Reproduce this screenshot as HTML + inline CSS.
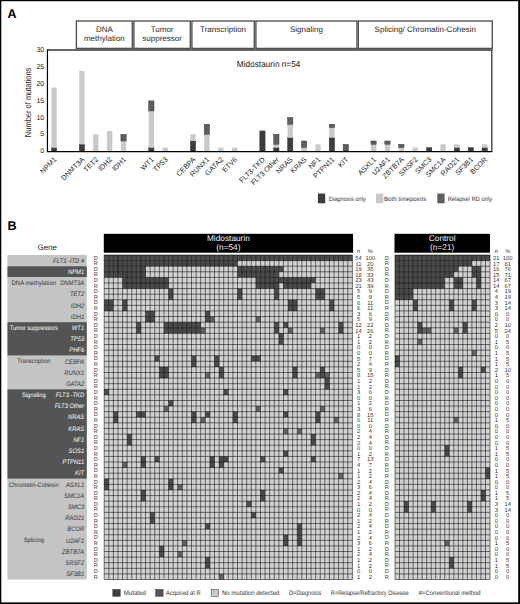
<!DOCTYPE html>
<html><head><meta charset="utf-8"><style>
html,body{margin:0;padding:0;background:#fff;width:520px;height:604px;overflow:hidden}
svg{display:block;font-family:"Liberation Sans", sans-serif;text-rendering:geometricPrecision}
</style></head><body>
<svg width="520" height="604" viewBox="0 0 520 604">
<text x="7.6" y="17.9" font-size="12.6" font-weight="bold" textLength="9.0" lengthAdjust="spacingAndGlyphs" fill="#000">A</text>
<rect x="76.4" y="21" width="55.90" height="27.4" fill="#fff" stroke="#4f4f4f" stroke-width="1.35"/>
<text x="104.35" y="32.1" font-size="8" text-anchor="middle" fill="#2a2a2a">DNA</text>
<text x="104.35" y="41.3" font-size="8" text-anchor="middle" fill="#2a2a2a">methylation</text>
<rect x="133.9" y="21" width="56.40" height="27.4" fill="#fff" stroke="#4f4f4f" stroke-width="1.35"/>
<text x="162.10" y="32.1" font-size="8" text-anchor="middle" fill="#2a2a2a">Tumor</text>
<text x="162.10" y="41.3" font-size="8" text-anchor="middle" fill="#2a2a2a">suppressor</text>
<rect x="191.9" y="21" width="62.40" height="27.4" fill="#fff" stroke="#4f4f4f" stroke-width="1.35"/>
<text x="223.10" y="32.3" font-size="8" text-anchor="middle" fill="#2a2a2a">Transcription</text>
<rect x="255.9" y="21" width="101.10" height="27.4" fill="#fff" stroke="#4f4f4f" stroke-width="1.35"/>
<text x="306.45" y="32.3" font-size="8" text-anchor="middle" fill="#2a2a2a">Signaling</text>
<rect x="358.3" y="21" width="134.00" height="27.4" fill="#fff" stroke="#4f4f4f" stroke-width="1.35"/>
<text x="425.30" y="32.3" font-size="8" text-anchor="middle" fill="#2a2a2a">Splicing/ Chromatin-Cohesin</text>
<line x1="47.4" y1="50.1" x2="492.3" y2="50.1" stroke="#333" stroke-width="1.5"/>
<line x1="491.8" y1="49.5" x2="491.8" y2="151.6" stroke="#333" stroke-width="1.3"/>
<rect x="51.45" y="147.66" width="5.3" height="3.34" fill="#3d3d3d" stroke="#333" stroke-width="0.45"/>
<rect x="51.45" y="87.54" width="5.3" height="60.12" fill="#c9c9c9"/>
<text transform="translate(57.10,160.00) rotate(-45)" font-size="7.2" text-anchor="end" fill="#222">NPM1</text>
<rect x="79.23" y="144.32" width="5.3" height="6.68" fill="#3d3d3d" stroke="#333" stroke-width="0.45"/>
<rect x="79.23" y="70.84" width="5.3" height="73.48" fill="#c9c9c9"/>
<text transform="translate(84.88,160.00) rotate(-45)" font-size="7.2" text-anchor="end" fill="#222">DNMT3A</text>
<rect x="93.12" y="134.30" width="5.3" height="16.70" fill="#c9c9c9"/>
<text transform="translate(98.77,160.00) rotate(-45)" font-size="7.2" text-anchor="end" fill="#222">TET2</text>
<rect x="107.01" y="130.96" width="5.3" height="20.04" fill="#c9c9c9"/>
<text transform="translate(112.66,160.00) rotate(-45)" font-size="7.2" text-anchor="end" fill="#222">IDH2</text>
<rect x="120.90" y="140.98" width="5.3" height="10.02" fill="#c9c9c9"/>
<rect x="120.90" y="134.30" width="5.3" height="6.68" fill="#5e5e5e" stroke="#333" stroke-width="0.45"/>
<text transform="translate(126.55,160.00) rotate(-45)" font-size="7.2" text-anchor="end" fill="#222">IDH1</text>
<rect x="148.68" y="147.66" width="5.3" height="3.34" fill="#3d3d3d" stroke="#333" stroke-width="0.45"/>
<rect x="148.68" y="110.92" width="5.3" height="36.74" fill="#c9c9c9"/>
<rect x="148.68" y="100.90" width="5.3" height="10.02" fill="#5e5e5e" stroke="#333" stroke-width="0.45"/>
<text transform="translate(154.33,160.00) rotate(-45)" font-size="7.2" text-anchor="end" fill="#222">WT1</text>
<rect x="162.57" y="147.66" width="5.3" height="3.34" fill="#c9c9c9"/>
<text transform="translate(168.22,160.00) rotate(-45)" font-size="7.2" text-anchor="end" fill="#222">TP53</text>
<rect x="190.35" y="140.98" width="5.3" height="10.02" fill="#3d3d3d" stroke="#333" stroke-width="0.45"/>
<rect x="190.35" y="134.30" width="5.3" height="6.68" fill="#c9c9c9"/>
<text transform="translate(196.00,160.00) rotate(-45)" font-size="7.2" text-anchor="end" fill="#222">CEBPA</text>
<rect x="204.24" y="134.30" width="5.3" height="16.70" fill="#c9c9c9"/>
<rect x="204.24" y="124.28" width="5.3" height="10.02" fill="#5e5e5e" stroke="#333" stroke-width="0.45"/>
<text transform="translate(209.89,160.00) rotate(-45)" font-size="7.2" text-anchor="end" fill="#222">RUNX1</text>
<rect x="218.13" y="147.66" width="5.3" height="3.34" fill="#c9c9c9"/>
<text transform="translate(223.78,160.00) rotate(-45)" font-size="7.2" text-anchor="end" fill="#222">GATA2</text>
<rect x="232.02" y="147.66" width="5.3" height="3.34" fill="#c9c9c9"/>
<text transform="translate(237.67,160.00) rotate(-45)" font-size="7.2" text-anchor="end" fill="#222">ETV6</text>
<rect x="259.80" y="130.96" width="5.3" height="20.04" fill="#3d3d3d" stroke="#333" stroke-width="0.45"/>
<text transform="translate(265.45,160.00) rotate(-45)" font-size="7.2" text-anchor="end" fill="#222">FLT3-TKD</text>
<rect x="273.69" y="147.66" width="5.3" height="3.34" fill="#3d3d3d" stroke="#333" stroke-width="0.45"/>
<rect x="273.69" y="144.32" width="5.3" height="3.34" fill="#c9c9c9"/>
<rect x="273.69" y="134.30" width="5.3" height="10.02" fill="#5e5e5e" stroke="#333" stroke-width="0.45"/>
<text transform="translate(279.34,160.00) rotate(-45)" font-size="7.2" text-anchor="end" fill="#222">FLT3 Other</text>
<rect x="287.58" y="137.64" width="5.3" height="13.36" fill="#3d3d3d" stroke="#333" stroke-width="0.45"/>
<rect x="287.58" y="124.28" width="5.3" height="13.36" fill="#c9c9c9"/>
<rect x="287.58" y="117.60" width="5.3" height="6.68" fill="#5e5e5e" stroke="#333" stroke-width="0.45"/>
<text transform="translate(293.23,160.00) rotate(-45)" font-size="7.2" text-anchor="end" fill="#222">NRAS</text>
<rect x="301.47" y="147.66" width="5.3" height="3.34" fill="#c9c9c9"/>
<rect x="301.47" y="140.98" width="5.3" height="6.68" fill="#5e5e5e" stroke="#333" stroke-width="0.45"/>
<text transform="translate(307.12,160.00) rotate(-45)" font-size="7.2" text-anchor="end" fill="#222">KRAS</text>
<rect x="315.36" y="144.32" width="5.3" height="6.68" fill="#c9c9c9"/>
<text transform="translate(321.01,160.00) rotate(-45)" font-size="7.2" text-anchor="end" fill="#222">NF1</text>
<rect x="329.25" y="137.64" width="5.3" height="13.36" fill="#3d3d3d" stroke="#333" stroke-width="0.45"/>
<rect x="329.25" y="127.62" width="5.3" height="10.02" fill="#c9c9c9"/>
<rect x="329.25" y="124.28" width="5.3" height="3.34" fill="#5e5e5e" stroke="#333" stroke-width="0.45"/>
<text transform="translate(334.90,160.00) rotate(-45)" font-size="7.2" text-anchor="end" fill="#222">PTPN11</text>
<rect x="343.14" y="144.32" width="5.3" height="6.68" fill="#5e5e5e" stroke="#333" stroke-width="0.45"/>
<text transform="translate(348.79,160.00) rotate(-45)" font-size="7.2" text-anchor="end" fill="#222">KIT</text>
<rect x="370.92" y="144.32" width="5.3" height="6.68" fill="#c9c9c9"/>
<rect x="370.92" y="140.98" width="5.3" height="3.34" fill="#5e5e5e" stroke="#333" stroke-width="0.45"/>
<text transform="translate(376.57,160.00) rotate(-45)" font-size="7.2" text-anchor="end" fill="#222">ASXL1</text>
<rect x="384.81" y="144.32" width="5.3" height="6.68" fill="#c9c9c9"/>
<rect x="384.81" y="140.98" width="5.3" height="3.34" fill="#5e5e5e" stroke="#333" stroke-width="0.45"/>
<text transform="translate(390.46,160.00) rotate(-45)" font-size="7.2" text-anchor="end" fill="#222">U2AF1</text>
<rect x="398.70" y="147.66" width="5.3" height="3.34" fill="#c9c9c9"/>
<rect x="398.70" y="144.32" width="5.3" height="3.34" fill="#5e5e5e" stroke="#333" stroke-width="0.45"/>
<text transform="translate(404.35,160.00) rotate(-45)" font-size="7.2" text-anchor="end" fill="#222">ZBTB7A</text>
<rect x="412.59" y="147.66" width="5.3" height="3.34" fill="#c9c9c9"/>
<text transform="translate(418.24,160.00) rotate(-45)" font-size="7.2" text-anchor="end" fill="#222">SRSF2</text>
<rect x="426.48" y="147.66" width="5.3" height="3.34" fill="#3d3d3d" stroke="#333" stroke-width="0.45"/>
<text transform="translate(432.13,160.00) rotate(-45)" font-size="7.2" text-anchor="end" fill="#222">SMC3</text>
<rect x="440.37" y="144.32" width="5.3" height="6.68" fill="#c9c9c9"/>
<text transform="translate(446.02,160.00) rotate(-45)" font-size="7.2" text-anchor="end" fill="#222">SMC1A</text>
<rect x="454.26" y="147.66" width="5.3" height="3.34" fill="#3d3d3d" stroke="#333" stroke-width="0.45"/>
<rect x="454.26" y="144.32" width="5.3" height="3.34" fill="#c9c9c9"/>
<text transform="translate(459.91,160.00) rotate(-45)" font-size="7.2" text-anchor="end" fill="#222">RAD21</text>
<rect x="468.15" y="147.66" width="5.3" height="3.34" fill="#3d3d3d" stroke="#333" stroke-width="0.45"/>
<text transform="translate(473.80,160.00) rotate(-45)" font-size="7.2" text-anchor="end" fill="#222">SF3B1</text>
<rect x="482.04" y="147.66" width="5.3" height="3.34" fill="#3d3d3d" stroke="#333" stroke-width="0.45"/>
<rect x="482.04" y="144.32" width="5.3" height="3.34" fill="#c9c9c9"/>
<text transform="translate(487.69,160.00) rotate(-45)" font-size="7.2" text-anchor="end" fill="#222">BCOR</text>
<line x1="47.45" y1="49.4" x2="47.45" y2="151.6" stroke="#000" stroke-width="1.2"/>
<line x1="46.9" y1="151.55" x2="492.4" y2="151.55" stroke="#000" stroke-width="1.2"/>
<text x="44.2" y="153.40" font-size="7" text-anchor="end" fill="#222">0</text>
<text x="44.2" y="136.49" font-size="7" text-anchor="end" fill="#222">5</text>
<text x="44.2" y="119.57" font-size="7" text-anchor="end" fill="#222">10</text>
<text x="44.2" y="102.66" font-size="7" text-anchor="end" fill="#222">15</text>
<text x="44.2" y="85.74" font-size="7" text-anchor="end" fill="#222">20</text>
<text x="44.2" y="68.83" font-size="7" text-anchor="end" fill="#222">25</text>
<text x="44.2" y="51.91" font-size="7" text-anchor="end" fill="#222">30</text>
<text transform="translate(31.4,102.4) rotate(-90)" font-size="8.8" text-anchor="middle" textLength="69.5" lengthAdjust="spacingAndGlyphs" fill="#2a2a2a">Number of mutations</text>
<text x="268.6" y="66.9" font-size="8.7" text-anchor="middle" textLength="63.5" lengthAdjust="spacingAndGlyphs" fill="#222">Midostaurin n=54</text>
<rect x="317.9" y="193.5" width="7.3" height="9.8" fill="#3d3d3d"/>
<text x="328.8" y="200.6" font-size="6.3" textLength="37.0" lengthAdjust="spacingAndGlyphs" fill="#333">Diagnosis only</text>
<rect x="376.0" y="193.5" width="7.3" height="9.8" fill="#c9c9c9"/>
<text x="384.0" y="200.6" font-size="6.3" textLength="42.3" lengthAdjust="spacingAndGlyphs" fill="#333">Both timepoints</text>
<rect x="437.3" y="193.5" width="7.3" height="9.8" fill="#5e5e5e"/>
<text x="447.7" y="200.6" font-size="6.3" textLength="44.3" lengthAdjust="spacingAndGlyphs" fill="#333">Relapse/ RD only</text>
<text x="7.4" y="230.2" font-size="12.6" font-weight="bold" fill="#000">B</text>
<text x="47.3" y="249.7" font-size="8" text-anchor="middle" fill="#222">Gene</text>
<rect x="7.4" y="255.00" width="79.40" height="11.19" fill="#c4c4c4"/>
<rect x="7.4" y="266.19" width="79.40" height="11.19" fill="#545454"/>
<rect x="7.4" y="277.38" width="79.40" height="44.76" fill="#c4c4c4"/>
<rect x="7.4" y="322.14" width="79.40" height="33.57" fill="#545454"/>
<rect x="7.4" y="355.71" width="79.40" height="33.57" fill="#c4c4c4"/>
<rect x="7.4" y="389.28" width="79.40" height="89.52" fill="#545454"/>
<rect x="7.4" y="478.80" width="79.40" height="100.71" fill="#c4c4c4"/>
<text x="33.8" y="285.08" font-size="6.4" text-anchor="middle" textLength="44.5" lengthAdjust="spacingAndGlyphs" fill="#333">DNA methylation</text>
<text x="33.8" y="329.84" font-size="6.4" text-anchor="middle" textLength="48.2" lengthAdjust="spacingAndGlyphs" fill="#fff">Tumor suppressors</text>
<text x="33.8" y="363.41" font-size="6.4" text-anchor="middle" textLength="33.2" lengthAdjust="spacingAndGlyphs" fill="#333">Transcription</text>
<text x="33.8" y="396.98" font-size="6.4" text-anchor="middle" textLength="23.7" lengthAdjust="spacingAndGlyphs" fill="#fff">Signaling</text>
<text x="33.8" y="486.50" font-size="6.4" text-anchor="middle" textLength="49.9" lengthAdjust="spacingAndGlyphs" fill="#333">Chromatin-Cohesin</text>
<text x="33.8" y="542.45" font-size="6.4" text-anchor="middle" textLength="20.3" lengthAdjust="spacingAndGlyphs" fill="#333">Splicing</text>
<text transform="translate(84.2,262.80) scale(0.9,1)" font-size="6.5" font-style="italic" text-anchor="end" fill="#333">FLT3 -ITD #</text>
<text transform="translate(84.2,273.99) scale(0.9,1)" font-size="6.5" font-style="italic" text-anchor="end" fill="#fff">NPM1</text>
<text transform="translate(84.2,285.18) scale(0.9,1)" font-size="6.5" font-style="italic" text-anchor="end" fill="#333">DNMT3A</text>
<text transform="translate(84.2,296.37) scale(0.9,1)" font-size="6.5" font-style="italic" text-anchor="end" fill="#333">TET2</text>
<text transform="translate(84.2,307.56) scale(0.9,1)" font-size="6.5" font-style="italic" text-anchor="end" fill="#333">IDH2</text>
<text transform="translate(84.2,318.75) scale(0.9,1)" font-size="6.5" font-style="italic" text-anchor="end" fill="#333">IDH1</text>
<text transform="translate(84.2,329.94) scale(0.9,1)" font-size="6.5" font-style="italic" text-anchor="end" fill="#fff">WT1</text>
<text transform="translate(84.2,341.12) scale(0.9,1)" font-size="6.5" font-style="italic" text-anchor="end" fill="#fff">TP53</text>
<text transform="translate(84.2,352.31) scale(0.9,1)" font-size="6.5" font-style="italic" text-anchor="end" fill="#fff">PHF6</text>
<text transform="translate(84.2,363.50) scale(0.9,1)" font-size="6.5" font-style="italic" text-anchor="end" fill="#333">CEBPA</text>
<text transform="translate(84.2,374.69) scale(0.9,1)" font-size="6.5" font-style="italic" text-anchor="end" fill="#333">RUNX1</text>
<text transform="translate(84.2,385.88) scale(0.9,1)" font-size="6.5" font-style="italic" text-anchor="end" fill="#333">GATA2</text>
<text transform="translate(84.2,397.07) scale(0.9,1)" font-size="6.5" font-style="italic" text-anchor="end" fill="#fff">FLT3 -TKD</text>
<text transform="translate(84.2,408.27) scale(0.9,1)" font-size="6.5" font-style="italic" text-anchor="end" fill="#fff">FLT3 Other</text>
<text transform="translate(84.2,419.45) scale(0.9,1)" font-size="6.5" font-style="italic" text-anchor="end" fill="#fff">NRAS</text>
<text transform="translate(84.2,430.65) scale(0.9,1)" font-size="6.5" font-style="italic" text-anchor="end" fill="#fff">KRAS</text>
<text transform="translate(84.2,441.83) scale(0.9,1)" font-size="6.5" font-style="italic" text-anchor="end" fill="#fff">NF1</text>
<text transform="translate(84.2,453.03) scale(0.9,1)" font-size="6.5" font-style="italic" text-anchor="end" fill="#fff">SOS1</text>
<text transform="translate(84.2,464.21) scale(0.9,1)" font-size="6.5" font-style="italic" text-anchor="end" fill="#fff">PTPN11</text>
<text transform="translate(84.2,475.41) scale(0.9,1)" font-size="6.5" font-style="italic" text-anchor="end" fill="#fff">KIT</text>
<text transform="translate(84.2,486.59) scale(0.9,1)" font-size="6.5" font-style="italic" text-anchor="end" fill="#333">ASXL1</text>
<text transform="translate(84.2,497.79) scale(0.9,1)" font-size="6.5" font-style="italic" text-anchor="end" fill="#333">SMC1A</text>
<text transform="translate(84.2,508.97) scale(0.9,1)" font-size="6.5" font-style="italic" text-anchor="end" fill="#333">SMC3</text>
<text transform="translate(84.2,520.17) scale(0.9,1)" font-size="6.5" font-style="italic" text-anchor="end" fill="#333">RAD21</text>
<text transform="translate(84.2,531.36) scale(0.9,1)" font-size="6.5" font-style="italic" text-anchor="end" fill="#333">BCOR</text>
<text transform="translate(84.2,542.55) scale(0.9,1)" font-size="6.5" font-style="italic" text-anchor="end" fill="#333">U2AF1</text>
<text transform="translate(84.2,553.74) scale(0.9,1)" font-size="6.5" font-style="italic" text-anchor="end" fill="#333">ZBTB7A</text>
<text transform="translate(84.2,564.93) scale(0.9,1)" font-size="6.5" font-style="italic" text-anchor="end" fill="#333">SRSF2</text>
<text transform="translate(84.2,576.12) scale(0.9,1)" font-size="6.5" font-style="italic" text-anchor="end" fill="#333">SF3B1</text>
<text x="95.8" y="259.70" font-size="5.7" text-anchor="middle" fill="#444">D</text>
<text x="95.8" y="265.30" font-size="5.7" text-anchor="middle" fill="#444">R</text>
<text x="95.8" y="270.89" font-size="5.7" text-anchor="middle" fill="#444">D</text>
<text x="95.8" y="276.49" font-size="5.7" text-anchor="middle" fill="#444">R</text>
<text x="95.8" y="282.08" font-size="5.7" text-anchor="middle" fill="#444">D</text>
<text x="95.8" y="287.68" font-size="5.7" text-anchor="middle" fill="#444">R</text>
<text x="95.8" y="293.27" font-size="5.7" text-anchor="middle" fill="#444">D</text>
<text x="95.8" y="298.87" font-size="5.7" text-anchor="middle" fill="#444">R</text>
<text x="95.8" y="304.46" font-size="5.7" text-anchor="middle" fill="#444">D</text>
<text x="95.8" y="310.06" font-size="5.7" text-anchor="middle" fill="#444">R</text>
<text x="95.8" y="315.65" font-size="5.7" text-anchor="middle" fill="#444">D</text>
<text x="95.8" y="321.25" font-size="5.7" text-anchor="middle" fill="#444">R</text>
<text x="95.8" y="326.84" font-size="5.7" text-anchor="middle" fill="#444">D</text>
<text x="95.8" y="332.44" font-size="5.7" text-anchor="middle" fill="#444">R</text>
<text x="95.8" y="338.03" font-size="5.7" text-anchor="middle" fill="#444">D</text>
<text x="95.8" y="343.62" font-size="5.7" text-anchor="middle" fill="#444">R</text>
<text x="95.8" y="349.22" font-size="5.7" text-anchor="middle" fill="#444">D</text>
<text x="95.8" y="354.81" font-size="5.7" text-anchor="middle" fill="#444">R</text>
<text x="95.8" y="360.41" font-size="5.7" text-anchor="middle" fill="#444">D</text>
<text x="95.8" y="366.00" font-size="5.7" text-anchor="middle" fill="#444">R</text>
<text x="95.8" y="371.60" font-size="5.7" text-anchor="middle" fill="#444">D</text>
<text x="95.8" y="377.19" font-size="5.7" text-anchor="middle" fill="#444">R</text>
<text x="95.8" y="382.79" font-size="5.7" text-anchor="middle" fill="#444">D</text>
<text x="95.8" y="388.38" font-size="5.7" text-anchor="middle" fill="#444">R</text>
<text x="95.8" y="393.98" font-size="5.7" text-anchor="middle" fill="#444">D</text>
<text x="95.8" y="399.57" font-size="5.7" text-anchor="middle" fill="#444">R</text>
<text x="95.8" y="405.17" font-size="5.7" text-anchor="middle" fill="#444">D</text>
<text x="95.8" y="410.76" font-size="5.7" text-anchor="middle" fill="#444">R</text>
<text x="95.8" y="416.36" font-size="5.7" text-anchor="middle" fill="#444">D</text>
<text x="95.8" y="421.95" font-size="5.7" text-anchor="middle" fill="#444">R</text>
<text x="95.8" y="427.55" font-size="5.7" text-anchor="middle" fill="#444">D</text>
<text x="95.8" y="433.14" font-size="5.7" text-anchor="middle" fill="#444">R</text>
<text x="95.8" y="438.74" font-size="5.7" text-anchor="middle" fill="#444">D</text>
<text x="95.8" y="444.33" font-size="5.7" text-anchor="middle" fill="#444">R</text>
<text x="95.8" y="449.93" font-size="5.7" text-anchor="middle" fill="#444">D</text>
<text x="95.8" y="455.52" font-size="5.7" text-anchor="middle" fill="#444">R</text>
<text x="95.8" y="461.12" font-size="5.7" text-anchor="middle" fill="#444">D</text>
<text x="95.8" y="466.71" font-size="5.7" text-anchor="middle" fill="#444">R</text>
<text x="95.8" y="472.31" font-size="5.7" text-anchor="middle" fill="#444">D</text>
<text x="95.8" y="477.90" font-size="5.7" text-anchor="middle" fill="#444">R</text>
<text x="95.8" y="483.50" font-size="5.7" text-anchor="middle" fill="#444">D</text>
<text x="95.8" y="489.09" font-size="5.7" text-anchor="middle" fill="#444">R</text>
<text x="95.8" y="494.69" font-size="5.7" text-anchor="middle" fill="#444">D</text>
<text x="95.8" y="500.28" font-size="5.7" text-anchor="middle" fill="#444">R</text>
<text x="95.8" y="505.88" font-size="5.7" text-anchor="middle" fill="#444">D</text>
<text x="95.8" y="511.47" font-size="5.7" text-anchor="middle" fill="#444">R</text>
<text x="95.8" y="517.07" font-size="5.7" text-anchor="middle" fill="#444">D</text>
<text x="95.8" y="522.66" font-size="5.7" text-anchor="middle" fill="#444">R</text>
<text x="95.8" y="528.26" font-size="5.7" text-anchor="middle" fill="#444">D</text>
<text x="95.8" y="533.86" font-size="5.7" text-anchor="middle" fill="#444">R</text>
<text x="95.8" y="539.45" font-size="5.7" text-anchor="middle" fill="#444">D</text>
<text x="95.8" y="545.05" font-size="5.7" text-anchor="middle" fill="#444">R</text>
<text x="95.8" y="550.64" font-size="5.7" text-anchor="middle" fill="#444">D</text>
<text x="95.8" y="556.24" font-size="5.7" text-anchor="middle" fill="#444">R</text>
<text x="95.8" y="561.83" font-size="5.7" text-anchor="middle" fill="#444">D</text>
<text x="95.8" y="567.42" font-size="5.7" text-anchor="middle" fill="#444">R</text>
<text x="95.8" y="573.02" font-size="5.7" text-anchor="middle" fill="#444">D</text>
<text x="95.8" y="578.62" font-size="5.7" text-anchor="middle" fill="#444">R</text>
<text x="386.7" y="259.70" font-size="5.7" text-anchor="middle" fill="#444">D</text>
<text x="386.7" y="265.30" font-size="5.7" text-anchor="middle" fill="#444">R</text>
<text x="386.7" y="270.89" font-size="5.7" text-anchor="middle" fill="#444">D</text>
<text x="386.7" y="276.49" font-size="5.7" text-anchor="middle" fill="#444">R</text>
<text x="386.7" y="282.08" font-size="5.7" text-anchor="middle" fill="#444">D</text>
<text x="386.7" y="287.68" font-size="5.7" text-anchor="middle" fill="#444">R</text>
<text x="386.7" y="293.27" font-size="5.7" text-anchor="middle" fill="#444">D</text>
<text x="386.7" y="298.87" font-size="5.7" text-anchor="middle" fill="#444">R</text>
<text x="386.7" y="304.46" font-size="5.7" text-anchor="middle" fill="#444">D</text>
<text x="386.7" y="310.06" font-size="5.7" text-anchor="middle" fill="#444">R</text>
<text x="386.7" y="315.65" font-size="5.7" text-anchor="middle" fill="#444">D</text>
<text x="386.7" y="321.25" font-size="5.7" text-anchor="middle" fill="#444">R</text>
<text x="386.7" y="326.84" font-size="5.7" text-anchor="middle" fill="#444">D</text>
<text x="386.7" y="332.44" font-size="5.7" text-anchor="middle" fill="#444">R</text>
<text x="386.7" y="338.03" font-size="5.7" text-anchor="middle" fill="#444">D</text>
<text x="386.7" y="343.62" font-size="5.7" text-anchor="middle" fill="#444">R</text>
<text x="386.7" y="349.22" font-size="5.7" text-anchor="middle" fill="#444">D</text>
<text x="386.7" y="354.81" font-size="5.7" text-anchor="middle" fill="#444">R</text>
<text x="386.7" y="360.41" font-size="5.7" text-anchor="middle" fill="#444">D</text>
<text x="386.7" y="366.00" font-size="5.7" text-anchor="middle" fill="#444">R</text>
<text x="386.7" y="371.60" font-size="5.7" text-anchor="middle" fill="#444">D</text>
<text x="386.7" y="377.19" font-size="5.7" text-anchor="middle" fill="#444">R</text>
<text x="386.7" y="382.79" font-size="5.7" text-anchor="middle" fill="#444">D</text>
<text x="386.7" y="388.38" font-size="5.7" text-anchor="middle" fill="#444">R</text>
<text x="386.7" y="393.98" font-size="5.7" text-anchor="middle" fill="#444">D</text>
<text x="386.7" y="399.57" font-size="5.7" text-anchor="middle" fill="#444">R</text>
<text x="386.7" y="405.17" font-size="5.7" text-anchor="middle" fill="#444">D</text>
<text x="386.7" y="410.76" font-size="5.7" text-anchor="middle" fill="#444">R</text>
<text x="386.7" y="416.36" font-size="5.7" text-anchor="middle" fill="#444">D</text>
<text x="386.7" y="421.95" font-size="5.7" text-anchor="middle" fill="#444">R</text>
<text x="386.7" y="427.55" font-size="5.7" text-anchor="middle" fill="#444">D</text>
<text x="386.7" y="433.14" font-size="5.7" text-anchor="middle" fill="#444">R</text>
<text x="386.7" y="438.74" font-size="5.7" text-anchor="middle" fill="#444">D</text>
<text x="386.7" y="444.33" font-size="5.7" text-anchor="middle" fill="#444">R</text>
<text x="386.7" y="449.93" font-size="5.7" text-anchor="middle" fill="#444">D</text>
<text x="386.7" y="455.52" font-size="5.7" text-anchor="middle" fill="#444">R</text>
<text x="386.7" y="461.12" font-size="5.7" text-anchor="middle" fill="#444">D</text>
<text x="386.7" y="466.71" font-size="5.7" text-anchor="middle" fill="#444">R</text>
<text x="386.7" y="472.31" font-size="5.7" text-anchor="middle" fill="#444">D</text>
<text x="386.7" y="477.90" font-size="5.7" text-anchor="middle" fill="#444">R</text>
<text x="386.7" y="483.50" font-size="5.7" text-anchor="middle" fill="#444">D</text>
<text x="386.7" y="489.09" font-size="5.7" text-anchor="middle" fill="#444">R</text>
<text x="386.7" y="494.69" font-size="5.7" text-anchor="middle" fill="#444">D</text>
<text x="386.7" y="500.28" font-size="5.7" text-anchor="middle" fill="#444">R</text>
<text x="386.7" y="505.88" font-size="5.7" text-anchor="middle" fill="#444">D</text>
<text x="386.7" y="511.47" font-size="5.7" text-anchor="middle" fill="#444">R</text>
<text x="386.7" y="517.07" font-size="5.7" text-anchor="middle" fill="#444">D</text>
<text x="386.7" y="522.66" font-size="5.7" text-anchor="middle" fill="#444">R</text>
<text x="386.7" y="528.26" font-size="5.7" text-anchor="middle" fill="#444">D</text>
<text x="386.7" y="533.86" font-size="5.7" text-anchor="middle" fill="#444">R</text>
<text x="386.7" y="539.45" font-size="5.7" text-anchor="middle" fill="#444">D</text>
<text x="386.7" y="545.05" font-size="5.7" text-anchor="middle" fill="#444">R</text>
<text x="386.7" y="550.64" font-size="5.7" text-anchor="middle" fill="#444">D</text>
<text x="386.7" y="556.24" font-size="5.7" text-anchor="middle" fill="#444">R</text>
<text x="386.7" y="561.83" font-size="5.7" text-anchor="middle" fill="#444">D</text>
<text x="386.7" y="567.42" font-size="5.7" text-anchor="middle" fill="#444">R</text>
<text x="386.7" y="573.02" font-size="5.7" text-anchor="middle" fill="#444">D</text>
<text x="386.7" y="578.62" font-size="5.7" text-anchor="middle" fill="#444">R</text>
<rect x="104.2" y="255.0" width="248.20" height="324.51" fill="#d2d2d2"/>
<rect x="104.20" y="255.00" width="4.60" height="5.59" fill="#4a4a4a"/>
<rect x="108.80" y="255.00" width="4.60" height="5.59" fill="#4a4a4a"/>
<rect x="113.39" y="255.00" width="4.60" height="5.59" fill="#4a4a4a"/>
<rect x="117.99" y="255.00" width="4.60" height="5.59" fill="#4a4a4a"/>
<rect x="122.59" y="255.00" width="4.60" height="5.59" fill="#4a4a4a"/>
<rect x="127.18" y="255.00" width="4.60" height="5.59" fill="#4a4a4a"/>
<rect x="131.78" y="255.00" width="4.60" height="5.59" fill="#4a4a4a"/>
<rect x="136.37" y="255.00" width="4.60" height="5.59" fill="#4a4a4a"/>
<rect x="140.97" y="255.00" width="4.60" height="5.59" fill="#4a4a4a"/>
<rect x="145.57" y="255.00" width="4.60" height="5.59" fill="#4a4a4a"/>
<rect x="150.16" y="255.00" width="4.60" height="5.59" fill="#4a4a4a"/>
<rect x="154.76" y="255.00" width="4.60" height="5.59" fill="#4a4a4a"/>
<rect x="159.36" y="255.00" width="4.60" height="5.59" fill="#4a4a4a"/>
<rect x="163.95" y="255.00" width="4.60" height="5.59" fill="#4a4a4a"/>
<rect x="168.55" y="255.00" width="4.60" height="5.59" fill="#4a4a4a"/>
<rect x="173.14" y="255.00" width="4.60" height="5.59" fill="#4a4a4a"/>
<rect x="177.74" y="255.00" width="4.60" height="5.59" fill="#4a4a4a"/>
<rect x="182.34" y="255.00" width="4.60" height="5.59" fill="#4a4a4a"/>
<rect x="186.93" y="255.00" width="4.60" height="5.59" fill="#4a4a4a"/>
<rect x="191.53" y="255.00" width="4.60" height="5.59" fill="#4a4a4a"/>
<rect x="196.13" y="255.00" width="4.60" height="5.59" fill="#4a4a4a"/>
<rect x="200.72" y="255.00" width="4.60" height="5.59" fill="#4a4a4a"/>
<rect x="205.32" y="255.00" width="4.60" height="5.59" fill="#4a4a4a"/>
<rect x="209.91" y="255.00" width="4.60" height="5.59" fill="#4a4a4a"/>
<rect x="214.51" y="255.00" width="4.60" height="5.59" fill="#4a4a4a"/>
<rect x="219.11" y="255.00" width="4.60" height="5.59" fill="#4a4a4a"/>
<rect x="223.70" y="255.00" width="4.60" height="5.59" fill="#4a4a4a"/>
<rect x="228.30" y="255.00" width="4.60" height="5.59" fill="#4a4a4a"/>
<rect x="232.90" y="255.00" width="4.60" height="5.59" fill="#4a4a4a"/>
<rect x="237.49" y="255.00" width="4.60" height="5.59" fill="#4a4a4a"/>
<rect x="242.09" y="255.00" width="4.60" height="5.59" fill="#4a4a4a"/>
<rect x="246.69" y="255.00" width="4.60" height="5.59" fill="#4a4a4a"/>
<rect x="251.28" y="255.00" width="4.60" height="5.59" fill="#4a4a4a"/>
<rect x="255.88" y="255.00" width="4.60" height="5.59" fill="#4a4a4a"/>
<rect x="260.47" y="255.00" width="4.60" height="5.59" fill="#4a4a4a"/>
<rect x="265.07" y="255.00" width="4.60" height="5.59" fill="#4a4a4a"/>
<rect x="269.67" y="255.00" width="4.60" height="5.59" fill="#4a4a4a"/>
<rect x="274.26" y="255.00" width="4.60" height="5.59" fill="#4a4a4a"/>
<rect x="278.86" y="255.00" width="4.60" height="5.59" fill="#4a4a4a"/>
<rect x="283.46" y="255.00" width="4.60" height="5.59" fill="#4a4a4a"/>
<rect x="288.05" y="255.00" width="4.60" height="5.59" fill="#4a4a4a"/>
<rect x="292.65" y="255.00" width="4.60" height="5.59" fill="#4a4a4a"/>
<rect x="297.24" y="255.00" width="4.60" height="5.59" fill="#4a4a4a"/>
<rect x="301.84" y="255.00" width="4.60" height="5.59" fill="#4a4a4a"/>
<rect x="306.44" y="255.00" width="4.60" height="5.59" fill="#4a4a4a"/>
<rect x="311.03" y="255.00" width="4.60" height="5.59" fill="#4a4a4a"/>
<rect x="315.63" y="255.00" width="4.60" height="5.59" fill="#4a4a4a"/>
<rect x="320.23" y="255.00" width="4.60" height="5.59" fill="#4a4a4a"/>
<rect x="324.82" y="255.00" width="4.60" height="5.59" fill="#4a4a4a"/>
<rect x="329.42" y="255.00" width="4.60" height="5.59" fill="#4a4a4a"/>
<rect x="334.01" y="255.00" width="4.60" height="5.59" fill="#4a4a4a"/>
<rect x="338.61" y="255.00" width="4.60" height="5.59" fill="#4a4a4a"/>
<rect x="343.21" y="255.00" width="4.60" height="5.59" fill="#4a4a4a"/>
<rect x="347.80" y="255.00" width="4.60" height="5.59" fill="#4a4a4a"/>
<rect x="104.20" y="260.60" width="4.60" height="5.59" fill="#4a4a4a"/>
<rect x="108.80" y="260.60" width="4.60" height="5.59" fill="#4a4a4a"/>
<rect x="113.39" y="260.60" width="4.60" height="5.59" fill="#4a4a4a"/>
<rect x="117.99" y="260.60" width="4.60" height="5.59" fill="#4a4a4a"/>
<rect x="122.59" y="260.60" width="4.60" height="5.59" fill="#4a4a4a"/>
<rect x="127.18" y="260.60" width="4.60" height="5.59" fill="#4a4a4a"/>
<rect x="131.78" y="260.60" width="4.60" height="5.59" fill="#4a4a4a"/>
<rect x="136.37" y="260.60" width="4.60" height="5.59" fill="#4a4a4a"/>
<rect x="140.97" y="260.60" width="4.60" height="5.59" fill="#4a4a4a"/>
<rect x="145.57" y="260.60" width="4.60" height="5.59" fill="#4a4a4a"/>
<rect x="150.16" y="260.60" width="4.60" height="5.59" fill="#4a4a4a"/>
<rect x="154.76" y="260.60" width="4.60" height="5.59" fill="#4a4a4a"/>
<rect x="159.36" y="260.60" width="4.60" height="5.59" fill="#4a4a4a"/>
<rect x="163.95" y="260.60" width="4.60" height="5.59" fill="#4a4a4a"/>
<rect x="168.55" y="260.60" width="4.60" height="5.59" fill="#4a4a4a"/>
<rect x="173.14" y="260.60" width="4.60" height="5.59" fill="#4a4a4a"/>
<rect x="177.74" y="260.60" width="4.60" height="5.59" fill="#4a4a4a"/>
<rect x="182.34" y="260.60" width="4.60" height="5.59" fill="#4a4a4a"/>
<rect x="186.93" y="260.60" width="4.60" height="5.59" fill="#4a4a4a"/>
<rect x="191.53" y="260.60" width="4.60" height="5.59" fill="#4a4a4a"/>
<rect x="196.13" y="260.60" width="4.60" height="5.59" fill="#4a4a4a"/>
<rect x="200.72" y="260.60" width="4.60" height="5.59" fill="#4a4a4a"/>
<rect x="205.32" y="260.60" width="4.60" height="5.59" fill="#4a4a4a"/>
<rect x="209.91" y="260.60" width="4.60" height="5.59" fill="#4a4a4a"/>
<rect x="214.51" y="260.60" width="4.60" height="5.59" fill="#4a4a4a"/>
<rect x="219.11" y="260.60" width="4.60" height="5.59" fill="#4a4a4a"/>
<rect x="223.70" y="260.60" width="4.60" height="5.59" fill="#4a4a4a"/>
<rect x="228.30" y="260.60" width="4.60" height="5.59" fill="#4a4a4a"/>
<rect x="232.90" y="260.60" width="4.60" height="5.59" fill="#4a4a4a"/>
<rect x="104.20" y="266.19" width="4.60" height="5.59" fill="#4a4a4a"/>
<rect x="108.80" y="266.19" width="4.60" height="5.59" fill="#4a4a4a"/>
<rect x="113.39" y="266.19" width="4.60" height="5.59" fill="#4a4a4a"/>
<rect x="117.99" y="266.19" width="4.60" height="5.59" fill="#4a4a4a"/>
<rect x="122.59" y="266.19" width="4.60" height="5.59" fill="#4a4a4a"/>
<rect x="127.18" y="266.19" width="4.60" height="5.59" fill="#4a4a4a"/>
<rect x="131.78" y="266.19" width="4.60" height="5.59" fill="#4a4a4a"/>
<rect x="136.37" y="266.19" width="4.60" height="5.59" fill="#4a4a4a"/>
<rect x="140.97" y="266.19" width="4.60" height="5.59" fill="#4a4a4a"/>
<rect x="237.49" y="266.19" width="4.60" height="5.59" fill="#4a4a4a"/>
<rect x="242.09" y="266.19" width="4.60" height="5.59" fill="#4a4a4a"/>
<rect x="246.69" y="266.19" width="4.60" height="5.59" fill="#4a4a4a"/>
<rect x="251.28" y="266.19" width="4.60" height="5.59" fill="#4a4a4a"/>
<rect x="255.88" y="266.19" width="4.60" height="5.59" fill="#4a4a4a"/>
<rect x="260.47" y="266.19" width="4.60" height="5.59" fill="#4a4a4a"/>
<rect x="265.07" y="266.19" width="4.60" height="5.59" fill="#4a4a4a"/>
<rect x="269.67" y="266.19" width="4.60" height="5.59" fill="#4a4a4a"/>
<rect x="274.26" y="266.19" width="4.60" height="5.59" fill="#4a4a4a"/>
<rect x="278.86" y="266.19" width="4.60" height="5.59" fill="#4a4a4a"/>
<rect x="104.20" y="271.79" width="4.60" height="5.59" fill="#4a4a4a"/>
<rect x="108.80" y="271.79" width="4.60" height="5.59" fill="#4a4a4a"/>
<rect x="113.39" y="271.79" width="4.60" height="5.59" fill="#4a4a4a"/>
<rect x="117.99" y="271.79" width="4.60" height="5.59" fill="#4a4a4a"/>
<rect x="122.59" y="271.79" width="4.60" height="5.59" fill="#4a4a4a"/>
<rect x="127.18" y="271.79" width="4.60" height="5.59" fill="#4a4a4a"/>
<rect x="131.78" y="271.79" width="4.60" height="5.59" fill="#4a4a4a"/>
<rect x="136.37" y="271.79" width="4.60" height="5.59" fill="#4a4a4a"/>
<rect x="140.97" y="271.79" width="4.60" height="5.59" fill="#4a4a4a"/>
<rect x="237.49" y="271.79" width="4.60" height="5.59" fill="#4a4a4a"/>
<rect x="242.09" y="271.79" width="4.60" height="5.59" fill="#4a4a4a"/>
<rect x="246.69" y="271.79" width="4.60" height="5.59" fill="#4a4a4a"/>
<rect x="251.28" y="271.79" width="4.60" height="5.59" fill="#4a4a4a"/>
<rect x="255.88" y="271.79" width="4.60" height="5.59" fill="#4a4a4a"/>
<rect x="260.47" y="271.79" width="4.60" height="5.59" fill="#4a4a4a"/>
<rect x="265.07" y="271.79" width="4.60" height="5.59" fill="#4a4a4a"/>
<rect x="269.67" y="271.79" width="4.60" height="5.59" fill="#4a4a4a"/>
<rect x="274.26" y="271.79" width="4.60" height="5.59" fill="#4a4a4a"/>
<rect x="122.59" y="277.38" width="4.60" height="5.59" fill="#4a4a4a"/>
<rect x="127.18" y="277.38" width="4.60" height="5.59" fill="#4a4a4a"/>
<rect x="131.78" y="277.38" width="4.60" height="5.59" fill="#4a4a4a"/>
<rect x="136.37" y="277.38" width="4.60" height="5.59" fill="#4a4a4a"/>
<rect x="140.97" y="277.38" width="4.60" height="5.59" fill="#4a4a4a"/>
<rect x="145.57" y="277.38" width="4.60" height="5.59" fill="#4a4a4a"/>
<rect x="150.16" y="277.38" width="4.60" height="5.59" fill="#4a4a4a"/>
<rect x="154.76" y="277.38" width="4.60" height="5.59" fill="#4a4a4a"/>
<rect x="159.36" y="277.38" width="4.60" height="5.59" fill="#4a4a4a"/>
<rect x="163.95" y="277.38" width="4.60" height="5.59" fill="#4a4a4a"/>
<rect x="255.88" y="277.38" width="4.60" height="5.59" fill="#4a4a4a"/>
<rect x="260.47" y="277.38" width="4.60" height="5.59" fill="#4a4a4a"/>
<rect x="265.07" y="277.38" width="4.60" height="5.59" fill="#4a4a4a"/>
<rect x="269.67" y="277.38" width="4.60" height="5.59" fill="#4a4a4a"/>
<rect x="274.26" y="277.38" width="4.60" height="5.59" fill="#4a4a4a"/>
<rect x="278.86" y="277.38" width="4.60" height="5.59" fill="#4a4a4a"/>
<rect x="283.46" y="277.38" width="4.60" height="5.59" fill="#4a4a4a"/>
<rect x="288.05" y="277.38" width="4.60" height="5.59" fill="#4a4a4a"/>
<rect x="292.65" y="277.38" width="4.60" height="5.59" fill="#4a4a4a"/>
<rect x="297.24" y="277.38" width="4.60" height="5.59" fill="#4a4a4a"/>
<rect x="301.84" y="277.38" width="4.60" height="5.59" fill="#4a4a4a"/>
<rect x="306.44" y="277.38" width="4.60" height="5.59" fill="#4a4a4a"/>
<rect x="311.03" y="277.38" width="4.60" height="5.59" fill="#4a4a4a"/>
<rect x="122.59" y="282.98" width="4.60" height="5.59" fill="#4a4a4a"/>
<rect x="127.18" y="282.98" width="4.60" height="5.59" fill="#4a4a4a"/>
<rect x="131.78" y="282.98" width="4.60" height="5.59" fill="#4a4a4a"/>
<rect x="136.37" y="282.98" width="4.60" height="5.59" fill="#4a4a4a"/>
<rect x="140.97" y="282.98" width="4.60" height="5.59" fill="#4a4a4a"/>
<rect x="145.57" y="282.98" width="4.60" height="5.59" fill="#4a4a4a"/>
<rect x="150.16" y="282.98" width="4.60" height="5.59" fill="#4a4a4a"/>
<rect x="154.76" y="282.98" width="4.60" height="5.59" fill="#4a4a4a"/>
<rect x="159.36" y="282.98" width="4.60" height="5.59" fill="#4a4a4a"/>
<rect x="163.95" y="282.98" width="4.60" height="5.59" fill="#4a4a4a"/>
<rect x="255.88" y="282.98" width="4.60" height="5.59" fill="#4a4a4a"/>
<rect x="260.47" y="282.98" width="4.60" height="5.59" fill="#4a4a4a"/>
<rect x="265.07" y="282.98" width="4.60" height="5.59" fill="#4a4a4a"/>
<rect x="269.67" y="282.98" width="4.60" height="5.59" fill="#4a4a4a"/>
<rect x="274.26" y="282.98" width="4.60" height="5.59" fill="#4a4a4a"/>
<rect x="283.46" y="282.98" width="4.60" height="5.59" fill="#4a4a4a"/>
<rect x="288.05" y="282.98" width="4.60" height="5.59" fill="#4a4a4a"/>
<rect x="292.65" y="282.98" width="4.60" height="5.59" fill="#4a4a4a"/>
<rect x="297.24" y="282.98" width="4.60" height="5.59" fill="#4a4a4a"/>
<rect x="301.84" y="282.98" width="4.60" height="5.59" fill="#4a4a4a"/>
<rect x="306.44" y="282.98" width="4.60" height="5.59" fill="#4a4a4a"/>
<rect x="168.55" y="288.57" width="4.60" height="5.59" fill="#4a4a4a"/>
<rect x="237.49" y="288.57" width="4.60" height="5.59" fill="#4a4a4a"/>
<rect x="274.26" y="288.57" width="4.60" height="5.59" fill="#4a4a4a"/>
<rect x="315.63" y="288.57" width="4.60" height="5.59" fill="#4a4a4a"/>
<rect x="320.23" y="288.57" width="4.60" height="5.59" fill="#4a4a4a"/>
<rect x="168.55" y="294.17" width="4.60" height="5.59" fill="#4a4a4a"/>
<rect x="237.49" y="294.17" width="4.60" height="5.59" fill="#4a4a4a"/>
<rect x="274.26" y="294.17" width="4.60" height="5.59" fill="#4a4a4a"/>
<rect x="315.63" y="294.17" width="4.60" height="5.59" fill="#4a4a4a"/>
<rect x="320.23" y="294.17" width="4.60" height="5.59" fill="#4a4a4a"/>
<rect x="104.20" y="299.76" width="4.60" height="5.59" fill="#4a4a4a"/>
<rect x="108.80" y="299.76" width="4.60" height="5.59" fill="#4a4a4a"/>
<rect x="122.59" y="299.76" width="4.60" height="5.59" fill="#4a4a4a"/>
<rect x="288.05" y="299.76" width="4.60" height="5.59" fill="#4a4a4a"/>
<rect x="292.65" y="299.76" width="4.60" height="5.59" fill="#4a4a4a"/>
<rect x="329.42" y="299.76" width="4.60" height="5.59" fill="#4a4a4a"/>
<rect x="104.20" y="305.36" width="4.60" height="5.59" fill="#4a4a4a"/>
<rect x="108.80" y="305.36" width="4.60" height="5.59" fill="#4a4a4a"/>
<rect x="122.59" y="305.36" width="4.60" height="5.59" fill="#4a4a4a"/>
<rect x="288.05" y="305.36" width="4.60" height="5.59" fill="#4a4a4a"/>
<rect x="292.65" y="305.36" width="4.60" height="5.59" fill="#4a4a4a"/>
<rect x="329.42" y="305.36" width="4.60" height="5.59" fill="#4a4a4a"/>
<rect x="145.57" y="310.95" width="4.60" height="5.59" fill="#4a4a4a"/>
<rect x="150.16" y="310.95" width="4.60" height="5.59" fill="#4a4a4a"/>
<rect x="205.32" y="310.95" width="4.60" height="5.59" fill="#4a4a4a"/>
<rect x="145.57" y="316.55" width="4.60" height="5.59" fill="#4a4a4a"/>
<rect x="150.16" y="316.55" width="4.60" height="5.59" fill="#4a4a4a"/>
<rect x="205.32" y="316.55" width="4.60" height="5.59" fill="#4a4a4a"/>
<rect x="209.91" y="316.55" width="4.60" height="5.59" fill="#626262"/>
<rect x="255.88" y="316.55" width="4.60" height="5.59" fill="#626262"/>
<rect x="136.37" y="322.14" width="4.60" height="5.59" fill="#4a4a4a"/>
<rect x="163.95" y="322.14" width="4.60" height="5.59" fill="#4a4a4a"/>
<rect x="168.55" y="322.14" width="4.60" height="5.59" fill="#4a4a4a"/>
<rect x="173.14" y="322.14" width="4.60" height="5.59" fill="#4a4a4a"/>
<rect x="177.74" y="322.14" width="4.60" height="5.59" fill="#4a4a4a"/>
<rect x="182.34" y="322.14" width="4.60" height="5.59" fill="#4a4a4a"/>
<rect x="186.93" y="322.14" width="4.60" height="5.59" fill="#4a4a4a"/>
<rect x="191.53" y="322.14" width="4.60" height="5.59" fill="#4a4a4a"/>
<rect x="196.13" y="322.14" width="4.60" height="5.59" fill="#4a4a4a"/>
<rect x="274.26" y="322.14" width="4.60" height="5.59" fill="#4a4a4a"/>
<rect x="283.46" y="322.14" width="4.60" height="5.59" fill="#4a4a4a"/>
<rect x="338.61" y="322.14" width="4.60" height="5.59" fill="#4a4a4a"/>
<rect x="136.37" y="327.74" width="4.60" height="5.59" fill="#4a4a4a"/>
<rect x="163.95" y="327.74" width="4.60" height="5.59" fill="#4a4a4a"/>
<rect x="168.55" y="327.74" width="4.60" height="5.59" fill="#4a4a4a"/>
<rect x="173.14" y="327.74" width="4.60" height="5.59" fill="#4a4a4a"/>
<rect x="177.74" y="327.74" width="4.60" height="5.59" fill="#4a4a4a"/>
<rect x="182.34" y="327.74" width="4.60" height="5.59" fill="#4a4a4a"/>
<rect x="186.93" y="327.74" width="4.60" height="5.59" fill="#4a4a4a"/>
<rect x="191.53" y="327.74" width="4.60" height="5.59" fill="#4a4a4a"/>
<rect x="196.13" y="327.74" width="4.60" height="5.59" fill="#4a4a4a"/>
<rect x="200.72" y="327.74" width="4.60" height="5.59" fill="#626262"/>
<rect x="274.26" y="327.74" width="4.60" height="5.59" fill="#4a4a4a"/>
<rect x="288.05" y="327.74" width="4.60" height="5.59" fill="#626262"/>
<rect x="320.23" y="327.74" width="4.60" height="5.59" fill="#626262"/>
<rect x="338.61" y="327.74" width="4.60" height="5.59" fill="#4a4a4a"/>
<rect x="278.86" y="333.33" width="4.60" height="5.59" fill="#4a4a4a"/>
<rect x="278.86" y="338.93" width="4.60" height="5.59" fill="#4a4a4a"/>
<rect x="154.76" y="355.71" width="4.60" height="5.59" fill="#4a4a4a"/>
<rect x="191.53" y="355.71" width="4.60" height="5.59" fill="#4a4a4a"/>
<rect x="214.51" y="355.71" width="4.60" height="5.59" fill="#4a4a4a"/>
<rect x="251.28" y="355.71" width="4.60" height="5.59" fill="#4a4a4a"/>
<rect x="255.88" y="355.71" width="4.60" height="5.59" fill="#4a4a4a"/>
<rect x="191.53" y="361.31" width="4.60" height="5.59" fill="#4a4a4a"/>
<rect x="214.51" y="361.31" width="4.60" height="5.59" fill="#4a4a4a"/>
<rect x="159.36" y="366.90" width="4.60" height="5.59" fill="#4a4a4a"/>
<rect x="163.95" y="366.90" width="4.60" height="5.59" fill="#4a4a4a"/>
<rect x="219.11" y="366.90" width="4.60" height="5.59" fill="#4a4a4a"/>
<rect x="292.65" y="366.90" width="4.60" height="5.59" fill="#4a4a4a"/>
<rect x="320.23" y="366.90" width="4.60" height="5.59" fill="#4a4a4a"/>
<rect x="159.36" y="372.50" width="4.60" height="5.59" fill="#4a4a4a"/>
<rect x="163.95" y="372.50" width="4.60" height="5.59" fill="#4a4a4a"/>
<rect x="205.32" y="372.50" width="4.60" height="5.59" fill="#626262"/>
<rect x="219.11" y="372.50" width="4.60" height="5.59" fill="#4a4a4a"/>
<rect x="292.65" y="372.50" width="4.60" height="5.59" fill="#4a4a4a"/>
<rect x="315.63" y="372.50" width="4.60" height="5.59" fill="#626262"/>
<rect x="320.23" y="372.50" width="4.60" height="5.59" fill="#4a4a4a"/>
<rect x="324.82" y="372.50" width="4.60" height="5.59" fill="#626262"/>
<rect x="324.82" y="378.09" width="4.60" height="5.59" fill="#4a4a4a"/>
<rect x="324.82" y="383.69" width="4.60" height="5.59" fill="#4a4a4a"/>
<rect x="104.20" y="389.28" width="4.60" height="5.59" fill="#4a4a4a"/>
<rect x="223.70" y="389.28" width="4.60" height="5.59" fill="#4a4a4a"/>
<rect x="283.46" y="389.28" width="4.60" height="5.59" fill="#4a4a4a"/>
<rect x="168.55" y="400.47" width="4.60" height="5.59" fill="#4a4a4a"/>
<rect x="163.95" y="406.06" width="4.60" height="5.59" fill="#626262"/>
<rect x="255.88" y="406.06" width="4.60" height="5.59" fill="#626262"/>
<rect x="320.23" y="406.06" width="4.60" height="5.59" fill="#626262"/>
<rect x="113.39" y="411.66" width="4.60" height="5.59" fill="#4a4a4a"/>
<rect x="136.37" y="411.66" width="4.60" height="5.59" fill="#4a4a4a"/>
<rect x="140.97" y="411.66" width="4.60" height="5.59" fill="#4a4a4a"/>
<rect x="191.53" y="411.66" width="4.60" height="5.59" fill="#4a4a4a"/>
<rect x="205.32" y="411.66" width="4.60" height="5.59" fill="#4a4a4a"/>
<rect x="232.90" y="411.66" width="4.60" height="5.59" fill="#4a4a4a"/>
<rect x="283.46" y="411.66" width="4.60" height="5.59" fill="#4a4a4a"/>
<rect x="315.63" y="411.66" width="4.60" height="5.59" fill="#4a4a4a"/>
<rect x="113.39" y="417.25" width="4.60" height="5.59" fill="#4a4a4a"/>
<rect x="191.53" y="417.25" width="4.60" height="5.59" fill="#4a4a4a"/>
<rect x="200.72" y="417.25" width="4.60" height="5.59" fill="#626262"/>
<rect x="232.90" y="417.25" width="4.60" height="5.59" fill="#4a4a4a"/>
<rect x="315.63" y="417.25" width="4.60" height="5.59" fill="#4a4a4a"/>
<rect x="334.01" y="417.25" width="4.60" height="5.59" fill="#626262"/>
<rect x="283.46" y="428.44" width="4.60" height="5.59" fill="#626262"/>
<rect x="297.24" y="428.44" width="4.60" height="5.59" fill="#626262"/>
<rect x="127.18" y="434.04" width="4.60" height="5.59" fill="#4a4a4a"/>
<rect x="311.03" y="434.04" width="4.60" height="5.59" fill="#4a4a4a"/>
<rect x="127.18" y="439.63" width="4.60" height="5.59" fill="#4a4a4a"/>
<rect x="311.03" y="439.63" width="4.60" height="5.59" fill="#4a4a4a"/>
<rect x="283.46" y="450.82" width="4.60" height="5.59" fill="#4a4a4a"/>
<rect x="140.97" y="456.42" width="4.60" height="5.59" fill="#4a4a4a"/>
<rect x="154.76" y="456.42" width="4.60" height="5.59" fill="#4a4a4a"/>
<rect x="209.91" y="456.42" width="4.60" height="5.59" fill="#4a4a4a"/>
<rect x="219.11" y="456.42" width="4.60" height="5.59" fill="#4a4a4a"/>
<rect x="223.70" y="456.42" width="4.60" height="5.59" fill="#4a4a4a"/>
<rect x="260.47" y="456.42" width="4.60" height="5.59" fill="#4a4a4a"/>
<rect x="311.03" y="456.42" width="4.60" height="5.59" fill="#4a4a4a"/>
<rect x="122.59" y="462.01" width="4.60" height="5.59" fill="#626262"/>
<rect x="140.97" y="462.01" width="4.60" height="5.59" fill="#4a4a4a"/>
<rect x="209.91" y="462.01" width="4.60" height="5.59" fill="#4a4a4a"/>
<rect x="219.11" y="462.01" width="4.60" height="5.59" fill="#4a4a4a"/>
<rect x="278.86" y="467.61" width="4.60" height="5.59" fill="#4a4a4a"/>
<rect x="338.61" y="473.20" width="4.60" height="5.59" fill="#626262"/>
<rect x="104.20" y="478.80" width="4.60" height="5.59" fill="#4a4a4a"/>
<rect x="168.55" y="478.80" width="4.60" height="5.59" fill="#4a4a4a"/>
<rect x="104.20" y="484.39" width="4.60" height="5.59" fill="#4a4a4a"/>
<rect x="168.55" y="484.39" width="4.60" height="5.59" fill="#4a4a4a"/>
<rect x="177.74" y="484.39" width="4.60" height="5.59" fill="#626262"/>
<rect x="140.97" y="489.99" width="4.60" height="5.59" fill="#4a4a4a"/>
<rect x="260.47" y="489.99" width="4.60" height="5.59" fill="#4a4a4a"/>
<rect x="140.97" y="495.58" width="4.60" height="5.59" fill="#4a4a4a"/>
<rect x="260.47" y="495.58" width="4.60" height="5.59" fill="#4a4a4a"/>
<rect x="246.69" y="501.18" width="4.60" height="5.59" fill="#4a4a4a"/>
<rect x="150.16" y="512.37" width="4.60" height="5.59" fill="#4a4a4a"/>
<rect x="251.28" y="512.37" width="4.60" height="5.59" fill="#4a4a4a"/>
<rect x="150.16" y="517.96" width="4.60" height="5.59" fill="#4a4a4a"/>
<rect x="205.32" y="523.56" width="4.60" height="5.59" fill="#4a4a4a"/>
<rect x="297.24" y="523.56" width="4.60" height="5.59" fill="#4a4a4a"/>
<rect x="297.24" y="529.15" width="4.60" height="5.59" fill="#4a4a4a"/>
<rect x="283.46" y="534.75" width="4.60" height="5.59" fill="#4a4a4a"/>
<rect x="297.24" y="534.75" width="4.60" height="5.59" fill="#4a4a4a"/>
<rect x="182.34" y="540.35" width="4.60" height="5.59" fill="#626262"/>
<rect x="283.46" y="540.35" width="4.60" height="5.59" fill="#4a4a4a"/>
<rect x="297.24" y="540.35" width="4.60" height="5.59" fill="#4a4a4a"/>
<rect x="159.36" y="545.94" width="4.60" height="5.59" fill="#4a4a4a"/>
<rect x="159.36" y="551.53" width="4.60" height="5.59" fill="#4a4a4a"/>
<rect x="177.74" y="551.53" width="4.60" height="5.59" fill="#626262"/>
<rect x="205.32" y="557.13" width="4.60" height="5.59" fill="#4a4a4a"/>
<rect x="205.32" y="562.72" width="4.60" height="5.59" fill="#4a4a4a"/>
<rect x="219.11" y="573.91" width="4.60" height="5.59" fill="#626262"/>
<path d="M104.20 255.0V579.51M108.80 255.0V579.51M113.39 255.0V579.51M117.99 255.0V579.51M122.59 255.0V579.51M127.18 255.0V579.51M131.78 255.0V579.51M136.37 255.0V579.51M140.97 255.0V579.51M145.57 255.0V579.51M150.16 255.0V579.51M154.76 255.0V579.51M159.36 255.0V579.51M163.95 255.0V579.51M168.55 255.0V579.51M173.14 255.0V579.51M177.74 255.0V579.51M182.34 255.0V579.51M186.93 255.0V579.51M191.53 255.0V579.51M196.13 255.0V579.51M200.72 255.0V579.51M205.32 255.0V579.51M209.91 255.0V579.51M214.51 255.0V579.51M219.11 255.0V579.51M223.70 255.0V579.51M228.30 255.0V579.51M232.90 255.0V579.51M237.49 255.0V579.51M242.09 255.0V579.51M246.69 255.0V579.51M251.28 255.0V579.51M255.88 255.0V579.51M260.47 255.0V579.51M265.07 255.0V579.51M269.67 255.0V579.51M274.26 255.0V579.51M278.86 255.0V579.51M283.46 255.0V579.51M288.05 255.0V579.51M292.65 255.0V579.51M297.24 255.0V579.51M301.84 255.0V579.51M306.44 255.0V579.51M311.03 255.0V579.51M315.63 255.0V579.51M320.23 255.0V579.51M324.82 255.0V579.51M329.42 255.0V579.51M334.01 255.0V579.51M338.61 255.0V579.51M343.21 255.0V579.51M347.80 255.0V579.51M352.40 255.0V579.51M104.2 255.00H352.4M104.2 260.60H352.4M104.2 266.19H352.4M104.2 271.79H352.4M104.2 277.38H352.4M104.2 282.98H352.4M104.2 288.57H352.4M104.2 294.17H352.4M104.2 299.76H352.4M104.2 305.36H352.4M104.2 310.95H352.4M104.2 316.55H352.4M104.2 322.14H352.4M104.2 327.74H352.4M104.2 333.33H352.4M104.2 338.93H352.4M104.2 344.52H352.4M104.2 350.12H352.4M104.2 355.71H352.4M104.2 361.31H352.4M104.2 366.90H352.4M104.2 372.50H352.4M104.2 378.09H352.4M104.2 383.69H352.4M104.2 389.28H352.4M104.2 394.88H352.4M104.2 400.47H352.4M104.2 406.06H352.4M104.2 411.66H352.4M104.2 417.25H352.4M104.2 422.85H352.4M104.2 428.44H352.4M104.2 434.04H352.4M104.2 439.63H352.4M104.2 445.23H352.4M104.2 450.82H352.4M104.2 456.42H352.4M104.2 462.01H352.4M104.2 467.61H352.4M104.2 473.20H352.4M104.2 478.80H352.4M104.2 484.39H352.4M104.2 489.99H352.4M104.2 495.58H352.4M104.2 501.18H352.4M104.2 506.77H352.4M104.2 512.37H352.4M104.2 517.96H352.4M104.2 523.56H352.4M104.2 529.15H352.4M104.2 534.75H352.4M104.2 540.35H352.4M104.2 545.94H352.4M104.2 551.53H352.4M104.2 557.13H352.4M104.2 562.72H352.4M104.2 568.32H352.4M104.2 573.91H352.4M104.2 579.51H352.4" stroke="#000" stroke-opacity="0.62" stroke-width="0.85" fill="none"/>
<rect x="395.0" y="255.0" width="95.00" height="324.51" fill="#d2d2d2"/>
<rect x="395.00" y="255.00" width="4.52" height="5.59" fill="#4a4a4a"/>
<rect x="399.52" y="255.00" width="4.52" height="5.59" fill="#4a4a4a"/>
<rect x="404.05" y="255.00" width="4.52" height="5.59" fill="#4a4a4a"/>
<rect x="408.57" y="255.00" width="4.52" height="5.59" fill="#4a4a4a"/>
<rect x="413.10" y="255.00" width="4.52" height="5.59" fill="#4a4a4a"/>
<rect x="417.62" y="255.00" width="4.52" height="5.59" fill="#4a4a4a"/>
<rect x="422.14" y="255.00" width="4.52" height="5.59" fill="#4a4a4a"/>
<rect x="426.67" y="255.00" width="4.52" height="5.59" fill="#4a4a4a"/>
<rect x="431.19" y="255.00" width="4.52" height="5.59" fill="#4a4a4a"/>
<rect x="435.71" y="255.00" width="4.52" height="5.59" fill="#4a4a4a"/>
<rect x="440.24" y="255.00" width="4.52" height="5.59" fill="#4a4a4a"/>
<rect x="444.76" y="255.00" width="4.52" height="5.59" fill="#4a4a4a"/>
<rect x="449.29" y="255.00" width="4.52" height="5.59" fill="#4a4a4a"/>
<rect x="453.81" y="255.00" width="4.52" height="5.59" fill="#4a4a4a"/>
<rect x="458.33" y="255.00" width="4.52" height="5.59" fill="#4a4a4a"/>
<rect x="462.86" y="255.00" width="4.52" height="5.59" fill="#4a4a4a"/>
<rect x="467.38" y="255.00" width="4.52" height="5.59" fill="#4a4a4a"/>
<rect x="471.90" y="255.00" width="4.52" height="5.59" fill="#4a4a4a"/>
<rect x="476.43" y="255.00" width="4.52" height="5.59" fill="#4a4a4a"/>
<rect x="480.95" y="255.00" width="4.52" height="5.59" fill="#4a4a4a"/>
<rect x="485.48" y="255.00" width="4.52" height="5.59" fill="#4a4a4a"/>
<rect x="395.00" y="260.60" width="4.52" height="5.59" fill="#4a4a4a"/>
<rect x="399.52" y="260.60" width="4.52" height="5.59" fill="#4a4a4a"/>
<rect x="404.05" y="260.60" width="4.52" height="5.59" fill="#4a4a4a"/>
<rect x="408.57" y="260.60" width="4.52" height="5.59" fill="#4a4a4a"/>
<rect x="413.10" y="260.60" width="4.52" height="5.59" fill="#4a4a4a"/>
<rect x="417.62" y="260.60" width="4.52" height="5.59" fill="#4a4a4a"/>
<rect x="422.14" y="260.60" width="4.52" height="5.59" fill="#4a4a4a"/>
<rect x="426.67" y="260.60" width="4.52" height="5.59" fill="#4a4a4a"/>
<rect x="431.19" y="260.60" width="4.52" height="5.59" fill="#4a4a4a"/>
<rect x="435.71" y="260.60" width="4.52" height="5.59" fill="#4a4a4a"/>
<rect x="440.24" y="260.60" width="4.52" height="5.59" fill="#4a4a4a"/>
<rect x="444.76" y="260.60" width="4.52" height="5.59" fill="#4a4a4a"/>
<rect x="449.29" y="260.60" width="4.52" height="5.59" fill="#4a4a4a"/>
<rect x="453.81" y="260.60" width="4.52" height="5.59" fill="#4a4a4a"/>
<rect x="458.33" y="260.60" width="4.52" height="5.59" fill="#4a4a4a"/>
<rect x="462.86" y="260.60" width="4.52" height="5.59" fill="#4a4a4a"/>
<rect x="467.38" y="260.60" width="4.52" height="5.59" fill="#4a4a4a"/>
<rect x="395.00" y="266.19" width="4.52" height="5.59" fill="#4a4a4a"/>
<rect x="399.52" y="266.19" width="4.52" height="5.59" fill="#4a4a4a"/>
<rect x="404.05" y="266.19" width="4.52" height="5.59" fill="#4a4a4a"/>
<rect x="408.57" y="266.19" width="4.52" height="5.59" fill="#4a4a4a"/>
<rect x="413.10" y="266.19" width="4.52" height="5.59" fill="#4a4a4a"/>
<rect x="417.62" y="266.19" width="4.52" height="5.59" fill="#4a4a4a"/>
<rect x="422.14" y="266.19" width="4.52" height="5.59" fill="#4a4a4a"/>
<rect x="426.67" y="266.19" width="4.52" height="5.59" fill="#4a4a4a"/>
<rect x="431.19" y="266.19" width="4.52" height="5.59" fill="#4a4a4a"/>
<rect x="435.71" y="266.19" width="4.52" height="5.59" fill="#4a4a4a"/>
<rect x="440.24" y="266.19" width="4.52" height="5.59" fill="#4a4a4a"/>
<rect x="444.76" y="266.19" width="4.52" height="5.59" fill="#4a4a4a"/>
<rect x="449.29" y="266.19" width="4.52" height="5.59" fill="#4a4a4a"/>
<rect x="453.81" y="266.19" width="4.52" height="5.59" fill="#4a4a4a"/>
<rect x="471.90" y="266.19" width="4.52" height="5.59" fill="#4a4a4a"/>
<rect x="476.43" y="266.19" width="4.52" height="5.59" fill="#4a4a4a"/>
<rect x="395.00" y="271.79" width="4.52" height="5.59" fill="#4a4a4a"/>
<rect x="399.52" y="271.79" width="4.52" height="5.59" fill="#4a4a4a"/>
<rect x="404.05" y="271.79" width="4.52" height="5.59" fill="#4a4a4a"/>
<rect x="408.57" y="271.79" width="4.52" height="5.59" fill="#4a4a4a"/>
<rect x="413.10" y="271.79" width="4.52" height="5.59" fill="#4a4a4a"/>
<rect x="417.62" y="271.79" width="4.52" height="5.59" fill="#4a4a4a"/>
<rect x="422.14" y="271.79" width="4.52" height="5.59" fill="#4a4a4a"/>
<rect x="426.67" y="271.79" width="4.52" height="5.59" fill="#4a4a4a"/>
<rect x="431.19" y="271.79" width="4.52" height="5.59" fill="#4a4a4a"/>
<rect x="435.71" y="271.79" width="4.52" height="5.59" fill="#4a4a4a"/>
<rect x="440.24" y="271.79" width="4.52" height="5.59" fill="#4a4a4a"/>
<rect x="444.76" y="271.79" width="4.52" height="5.59" fill="#4a4a4a"/>
<rect x="449.29" y="271.79" width="4.52" height="5.59" fill="#4a4a4a"/>
<rect x="471.90" y="271.79" width="4.52" height="5.59" fill="#4a4a4a"/>
<rect x="476.43" y="271.79" width="4.52" height="5.59" fill="#4a4a4a"/>
<rect x="395.00" y="277.38" width="4.52" height="5.59" fill="#4a4a4a"/>
<rect x="399.52" y="277.38" width="4.52" height="5.59" fill="#4a4a4a"/>
<rect x="404.05" y="277.38" width="4.52" height="5.59" fill="#4a4a4a"/>
<rect x="408.57" y="277.38" width="4.52" height="5.59" fill="#4a4a4a"/>
<rect x="413.10" y="277.38" width="4.52" height="5.59" fill="#4a4a4a"/>
<rect x="417.62" y="277.38" width="4.52" height="5.59" fill="#4a4a4a"/>
<rect x="422.14" y="277.38" width="4.52" height="5.59" fill="#4a4a4a"/>
<rect x="426.67" y="277.38" width="4.52" height="5.59" fill="#4a4a4a"/>
<rect x="431.19" y="277.38" width="4.52" height="5.59" fill="#4a4a4a"/>
<rect x="435.71" y="277.38" width="4.52" height="5.59" fill="#4a4a4a"/>
<rect x="440.24" y="277.38" width="4.52" height="5.59" fill="#4a4a4a"/>
<rect x="453.81" y="277.38" width="4.52" height="5.59" fill="#4a4a4a"/>
<rect x="458.33" y="277.38" width="4.52" height="5.59" fill="#4a4a4a"/>
<rect x="476.43" y="277.38" width="4.52" height="5.59" fill="#4a4a4a"/>
<rect x="395.00" y="282.98" width="4.52" height="5.59" fill="#4a4a4a"/>
<rect x="399.52" y="282.98" width="4.52" height="5.59" fill="#4a4a4a"/>
<rect x="404.05" y="282.98" width="4.52" height="5.59" fill="#4a4a4a"/>
<rect x="408.57" y="282.98" width="4.52" height="5.59" fill="#4a4a4a"/>
<rect x="413.10" y="282.98" width="4.52" height="5.59" fill="#4a4a4a"/>
<rect x="417.62" y="282.98" width="4.52" height="5.59" fill="#4a4a4a"/>
<rect x="422.14" y="282.98" width="4.52" height="5.59" fill="#4a4a4a"/>
<rect x="426.67" y="282.98" width="4.52" height="5.59" fill="#4a4a4a"/>
<rect x="431.19" y="282.98" width="4.52" height="5.59" fill="#4a4a4a"/>
<rect x="435.71" y="282.98" width="4.52" height="5.59" fill="#4a4a4a"/>
<rect x="440.24" y="282.98" width="4.52" height="5.59" fill="#4a4a4a"/>
<rect x="453.81" y="282.98" width="4.52" height="5.59" fill="#4a4a4a"/>
<rect x="458.33" y="282.98" width="4.52" height="5.59" fill="#4a4a4a"/>
<rect x="476.43" y="282.98" width="4.52" height="5.59" fill="#4a4a4a"/>
<rect x="395.00" y="288.57" width="4.52" height="5.59" fill="#4a4a4a"/>
<rect x="399.52" y="288.57" width="4.52" height="5.59" fill="#4a4a4a"/>
<rect x="404.05" y="288.57" width="4.52" height="5.59" fill="#4a4a4a"/>
<rect x="408.57" y="288.57" width="4.52" height="5.59" fill="#4a4a4a"/>
<rect x="395.00" y="294.17" width="4.52" height="5.59" fill="#4a4a4a"/>
<rect x="399.52" y="294.17" width="4.52" height="5.59" fill="#4a4a4a"/>
<rect x="404.05" y="294.17" width="4.52" height="5.59" fill="#4a4a4a"/>
<rect x="408.57" y="294.17" width="4.52" height="5.59" fill="#4a4a4a"/>
<rect x="413.10" y="299.76" width="4.52" height="5.59" fill="#4a4a4a"/>
<rect x="449.29" y="299.76" width="4.52" height="5.59" fill="#4a4a4a"/>
<rect x="471.90" y="299.76" width="4.52" height="5.59" fill="#4a4a4a"/>
<rect x="413.10" y="305.36" width="4.52" height="5.59" fill="#4a4a4a"/>
<rect x="449.29" y="305.36" width="4.52" height="5.59" fill="#4a4a4a"/>
<rect x="471.90" y="305.36" width="4.52" height="5.59" fill="#4a4a4a"/>
<rect x="417.62" y="322.14" width="4.52" height="5.59" fill="#4a4a4a"/>
<rect x="462.86" y="322.14" width="4.52" height="5.59" fill="#4a4a4a"/>
<rect x="417.62" y="327.74" width="4.52" height="5.59" fill="#4a4a4a"/>
<rect x="422.14" y="327.74" width="4.52" height="5.59" fill="#626262"/>
<rect x="426.67" y="327.74" width="4.52" height="5.59" fill="#626262"/>
<rect x="453.81" y="327.74" width="4.52" height="5.59" fill="#626262"/>
<rect x="462.86" y="327.74" width="4.52" height="5.59" fill="#4a4a4a"/>
<rect x="417.62" y="338.93" width="4.52" height="5.59" fill="#626262"/>
<rect x="471.90" y="350.12" width="4.52" height="5.59" fill="#626262"/>
<rect x="395.00" y="355.71" width="4.52" height="5.59" fill="#4a4a4a"/>
<rect x="395.00" y="361.31" width="4.52" height="5.59" fill="#4a4a4a"/>
<rect x="458.33" y="366.90" width="4.52" height="5.59" fill="#4a4a4a"/>
<rect x="480.95" y="366.90" width="4.52" height="5.59" fill="#4a4a4a"/>
<rect x="458.33" y="372.50" width="4.52" height="5.59" fill="#4a4a4a"/>
<rect x="453.81" y="417.25" width="4.52" height="5.59" fill="#626262"/>
<rect x="444.76" y="445.23" width="4.52" height="5.59" fill="#4a4a4a"/>
<rect x="444.76" y="450.82" width="4.52" height="5.59" fill="#4a4a4a"/>
<rect x="485.48" y="467.61" width="4.52" height="5.59" fill="#4a4a4a"/>
<rect x="485.48" y="473.20" width="4.52" height="5.59" fill="#4a4a4a"/>
<rect x="480.95" y="489.99" width="4.52" height="5.59" fill="#4a4a4a"/>
<rect x="480.95" y="495.58" width="4.52" height="5.59" fill="#4a4a4a"/>
<rect x="404.05" y="501.18" width="4.52" height="5.59" fill="#4a4a4a"/>
<rect x="431.19" y="501.18" width="4.52" height="5.59" fill="#4a4a4a"/>
<rect x="467.38" y="501.18" width="4.52" height="5.59" fill="#4a4a4a"/>
<rect x="404.05" y="506.77" width="4.52" height="5.59" fill="#4a4a4a"/>
<rect x="431.19" y="506.77" width="4.52" height="5.59" fill="#4a4a4a"/>
<rect x="467.38" y="506.77" width="4.52" height="5.59" fill="#4a4a4a"/>
<rect x="444.76" y="540.35" width="4.52" height="5.59" fill="#626262"/>
<rect x="449.29" y="557.13" width="4.52" height="5.59" fill="#4a4a4a"/>
<rect x="449.29" y="562.72" width="4.52" height="5.59" fill="#4a4a4a"/>
<path d="M395.00 255.0V579.51M399.52 255.0V579.51M404.05 255.0V579.51M408.57 255.0V579.51M413.10 255.0V579.51M417.62 255.0V579.51M422.14 255.0V579.51M426.67 255.0V579.51M431.19 255.0V579.51M435.71 255.0V579.51M440.24 255.0V579.51M444.76 255.0V579.51M449.29 255.0V579.51M453.81 255.0V579.51M458.33 255.0V579.51M462.86 255.0V579.51M467.38 255.0V579.51M471.90 255.0V579.51M476.43 255.0V579.51M480.95 255.0V579.51M485.48 255.0V579.51M490.00 255.0V579.51M395.0 255.00H490.0M395.0 260.60H490.0M395.0 266.19H490.0M395.0 271.79H490.0M395.0 277.38H490.0M395.0 282.98H490.0M395.0 288.57H490.0M395.0 294.17H490.0M395.0 299.76H490.0M395.0 305.36H490.0M395.0 310.95H490.0M395.0 316.55H490.0M395.0 322.14H490.0M395.0 327.74H490.0M395.0 333.33H490.0M395.0 338.93H490.0M395.0 344.52H490.0M395.0 350.12H490.0M395.0 355.71H490.0M395.0 361.31H490.0M395.0 366.90H490.0M395.0 372.50H490.0M395.0 378.09H490.0M395.0 383.69H490.0M395.0 389.28H490.0M395.0 394.88H490.0M395.0 400.47H490.0M395.0 406.06H490.0M395.0 411.66H490.0M395.0 417.25H490.0M395.0 422.85H490.0M395.0 428.44H490.0M395.0 434.04H490.0M395.0 439.63H490.0M395.0 445.23H490.0M395.0 450.82H490.0M395.0 456.42H490.0M395.0 462.01H490.0M395.0 467.61H490.0M395.0 473.20H490.0M395.0 478.80H490.0M395.0 484.39H490.0M395.0 489.99H490.0M395.0 495.58H490.0M395.0 501.18H490.0M395.0 506.77H490.0M395.0 512.37H490.0M395.0 517.96H490.0M395.0 523.56H490.0M395.0 529.15H490.0M395.0 534.75H490.0M395.0 540.35H490.0M395.0 545.94H490.0M395.0 551.53H490.0M395.0 557.13H490.0M395.0 562.72H490.0M395.0 568.32H490.0M395.0 573.91H490.0M395.0 579.51H490.0" stroke="#000" stroke-opacity="0.62" stroke-width="0.85" fill="none"/>
<rect x="103.8" y="233.8" width="249.3" height="18.9" fill="#000"/>
<text x="228.4" y="240.9" font-size="8.3" text-anchor="middle" fill="#f2f2f2">Midostaurin</text>
<text x="228.4" y="250.2" font-size="8.3" text-anchor="middle" fill="#f2f2f2">(n=54)</text>
<rect x="394.5" y="233.8" width="95.5" height="18.9" fill="#000"/>
<text x="442.2" y="240.9" font-size="8.3" text-anchor="middle" fill="#f2f2f2">Control</text>
<text x="442.2" y="250.2" font-size="8.3" text-anchor="middle" fill="#f2f2f2">(n=21)</text>
<text x="358.6" y="252.6" font-size="5.6" text-anchor="middle" fill="#222">n</text>
<text x="370.3" y="252.6" font-size="5.6" text-anchor="middle" fill="#222">%</text>
<text x="358.6" y="259.90" font-size="5.8" text-anchor="middle" fill="#333">54</text>
<text x="370.3" y="259.90" font-size="5.8" text-anchor="middle" fill="#333">100</text>
<text x="358.6" y="265.50" font-size="5.8" text-anchor="middle" fill="#333">11</text>
<text x="370.3" y="265.50" font-size="5.8" text-anchor="middle" fill="#333">20</text>
<text x="358.6" y="271.09" font-size="5.8" text-anchor="middle" fill="#333">19</text>
<text x="370.3" y="271.09" font-size="5.8" text-anchor="middle" fill="#333">35</text>
<text x="358.6" y="276.69" font-size="5.8" text-anchor="middle" fill="#333">18</text>
<text x="370.3" y="276.69" font-size="5.8" text-anchor="middle" fill="#333">33</text>
<text x="358.6" y="282.28" font-size="5.8" text-anchor="middle" fill="#333">23</text>
<text x="370.3" y="282.28" font-size="5.8" text-anchor="middle" fill="#333">43</text>
<text x="358.6" y="287.88" font-size="5.8" text-anchor="middle" fill="#333">21</text>
<text x="370.3" y="287.88" font-size="5.8" text-anchor="middle" fill="#333">39</text>
<text x="358.6" y="293.47" font-size="5.8" text-anchor="middle" fill="#333">5</text>
<text x="370.3" y="293.47" font-size="5.8" text-anchor="middle" fill="#333">9</text>
<text x="358.6" y="299.06" font-size="5.8" text-anchor="middle" fill="#333">5</text>
<text x="370.3" y="299.06" font-size="5.8" text-anchor="middle" fill="#333">9</text>
<text x="358.6" y="304.66" font-size="5.8" text-anchor="middle" fill="#333">6</text>
<text x="370.3" y="304.66" font-size="5.8" text-anchor="middle" fill="#333">11</text>
<text x="358.6" y="310.25" font-size="5.8" text-anchor="middle" fill="#333">6</text>
<text x="370.3" y="310.25" font-size="5.8" text-anchor="middle" fill="#333">11</text>
<text x="358.6" y="315.85" font-size="5.8" text-anchor="middle" fill="#333">3</text>
<text x="370.3" y="315.85" font-size="5.8" text-anchor="middle" fill="#333">6</text>
<text x="358.6" y="321.44" font-size="5.8" text-anchor="middle" fill="#333">5</text>
<text x="370.3" y="321.44" font-size="5.8" text-anchor="middle" fill="#333">9</text>
<text x="358.6" y="327.04" font-size="5.8" text-anchor="middle" fill="#333">12</text>
<text x="370.3" y="327.04" font-size="5.8" text-anchor="middle" fill="#333">22</text>
<text x="358.6" y="332.63" font-size="5.8" text-anchor="middle" fill="#333">14</text>
<text x="370.3" y="332.63" font-size="5.8" text-anchor="middle" fill="#333">26</text>
<text x="358.6" y="338.23" font-size="5.8" text-anchor="middle" fill="#333">1</text>
<text x="370.3" y="338.23" font-size="5.8" text-anchor="middle" fill="#333">2</text>
<text x="358.6" y="343.82" font-size="5.8" text-anchor="middle" fill="#333">1</text>
<text x="370.3" y="343.82" font-size="5.8" text-anchor="middle" fill="#333">2</text>
<text x="358.6" y="349.42" font-size="5.8" text-anchor="middle" fill="#333">0</text>
<text x="370.3" y="349.42" font-size="5.8" text-anchor="middle" fill="#333">0</text>
<text x="358.6" y="355.01" font-size="5.8" text-anchor="middle" fill="#333">0</text>
<text x="370.3" y="355.01" font-size="5.8" text-anchor="middle" fill="#333">0</text>
<text x="358.6" y="360.61" font-size="5.8" text-anchor="middle" fill="#333">5</text>
<text x="370.3" y="360.61" font-size="5.8" text-anchor="middle" fill="#333">7</text>
<text x="358.6" y="366.20" font-size="5.8" text-anchor="middle" fill="#333">2</text>
<text x="370.3" y="366.20" font-size="5.8" text-anchor="middle" fill="#333">4</text>
<text x="358.6" y="371.80" font-size="5.8" text-anchor="middle" fill="#333">5</text>
<text x="370.3" y="371.80" font-size="5.8" text-anchor="middle" fill="#333">9</text>
<text x="358.6" y="377.39" font-size="5.8" text-anchor="middle" fill="#333">8</text>
<text x="370.3" y="377.39" font-size="5.8" text-anchor="middle" fill="#333">15</text>
<text x="358.6" y="382.99" font-size="5.8" text-anchor="middle" fill="#333">1</text>
<text x="370.3" y="382.99" font-size="5.8" text-anchor="middle" fill="#333">2</text>
<text x="358.6" y="388.58" font-size="5.8" text-anchor="middle" fill="#333">1</text>
<text x="370.3" y="388.58" font-size="5.8" text-anchor="middle" fill="#333">2</text>
<text x="358.6" y="394.18" font-size="5.8" text-anchor="middle" fill="#333">3</text>
<text x="370.3" y="394.18" font-size="5.8" text-anchor="middle" fill="#333">6</text>
<text x="358.6" y="399.77" font-size="5.8" text-anchor="middle" fill="#333">0</text>
<text x="370.3" y="399.77" font-size="5.8" text-anchor="middle" fill="#333">0</text>
<text x="358.6" y="405.37" font-size="5.8" text-anchor="middle" fill="#333">1</text>
<text x="370.3" y="405.37" font-size="5.8" text-anchor="middle" fill="#333">2</text>
<text x="358.6" y="410.96" font-size="5.8" text-anchor="middle" fill="#333">3</text>
<text x="370.3" y="410.96" font-size="5.8" text-anchor="middle" fill="#333">6</text>
<text x="358.6" y="416.56" font-size="5.8" text-anchor="middle" fill="#333">8</text>
<text x="370.3" y="416.56" font-size="5.8" text-anchor="middle" fill="#333">15</text>
<text x="358.6" y="422.15" font-size="5.8" text-anchor="middle" fill="#333">6</text>
<text x="370.3" y="422.15" font-size="5.8" text-anchor="middle" fill="#333">11</text>
<text x="358.6" y="427.75" font-size="5.8" text-anchor="middle" fill="#333">0</text>
<text x="370.3" y="427.75" font-size="5.8" text-anchor="middle" fill="#333">0</text>
<text x="358.6" y="433.34" font-size="5.8" text-anchor="middle" fill="#333">2</text>
<text x="370.3" y="433.34" font-size="5.8" text-anchor="middle" fill="#333">4</text>
<text x="358.6" y="438.94" font-size="5.8" text-anchor="middle" fill="#333">2</text>
<text x="370.3" y="438.94" font-size="5.8" text-anchor="middle" fill="#333">4</text>
<text x="358.6" y="444.53" font-size="5.8" text-anchor="middle" fill="#333">2</text>
<text x="370.3" y="444.53" font-size="5.8" text-anchor="middle" fill="#333">4</text>
<text x="358.6" y="450.13" font-size="5.8" text-anchor="middle" fill="#333">0</text>
<text x="370.3" y="450.13" font-size="5.8" text-anchor="middle" fill="#333">0</text>
<text x="358.6" y="455.72" font-size="5.8" text-anchor="middle" fill="#333">1</text>
<text x="370.3" y="455.72" font-size="5.8" text-anchor="middle" fill="#333">2</text>
<text x="358.6" y="461.32" font-size="5.8" text-anchor="middle" fill="#333">7</text>
<text x="370.3" y="461.32" font-size="5.8" text-anchor="middle" fill="#333">13</text>
<text x="358.6" y="466.91" font-size="5.8" text-anchor="middle" fill="#333">4</text>
<text x="370.3" y="466.91" font-size="5.8" text-anchor="middle" fill="#333">7</text>
<text x="358.6" y="472.51" font-size="5.8" text-anchor="middle" fill="#333">1</text>
<text x="370.3" y="472.51" font-size="5.8" text-anchor="middle" fill="#333">2</text>
<text x="358.6" y="478.10" font-size="5.8" text-anchor="middle" fill="#333">1</text>
<text x="370.3" y="478.10" font-size="5.8" text-anchor="middle" fill="#333">2</text>
<text x="358.6" y="483.70" font-size="5.8" text-anchor="middle" fill="#333">2</text>
<text x="370.3" y="483.70" font-size="5.8" text-anchor="middle" fill="#333">4</text>
<text x="358.6" y="489.29" font-size="5.8" text-anchor="middle" fill="#333">3</text>
<text x="370.3" y="489.29" font-size="5.8" text-anchor="middle" fill="#333">6</text>
<text x="358.6" y="494.89" font-size="5.8" text-anchor="middle" fill="#333">2</text>
<text x="370.3" y="494.89" font-size="5.8" text-anchor="middle" fill="#333">4</text>
<text x="358.6" y="500.48" font-size="5.8" text-anchor="middle" fill="#333">2</text>
<text x="370.3" y="500.48" font-size="5.8" text-anchor="middle" fill="#333">4</text>
<text x="358.6" y="506.08" font-size="5.8" text-anchor="middle" fill="#333">1</text>
<text x="370.3" y="506.08" font-size="5.8" text-anchor="middle" fill="#333">2</text>
<text x="358.6" y="511.67" font-size="5.8" text-anchor="middle" fill="#333">0</text>
<text x="370.3" y="511.67" font-size="5.8" text-anchor="middle" fill="#333">0</text>
<text x="358.6" y="517.27" font-size="5.8" text-anchor="middle" fill="#333">2</text>
<text x="370.3" y="517.27" font-size="5.8" text-anchor="middle" fill="#333">4</text>
<text x="358.6" y="522.86" font-size="5.8" text-anchor="middle" fill="#333">1</text>
<text x="370.3" y="522.86" font-size="5.8" text-anchor="middle" fill="#333">2</text>
<text x="358.6" y="528.46" font-size="5.8" text-anchor="middle" fill="#333">2</text>
<text x="370.3" y="528.46" font-size="5.8" text-anchor="middle" fill="#333">4</text>
<text x="358.6" y="534.05" font-size="5.8" text-anchor="middle" fill="#333">1</text>
<text x="370.3" y="534.05" font-size="5.8" text-anchor="middle" fill="#333">2</text>
<text x="358.6" y="539.65" font-size="5.8" text-anchor="middle" fill="#333">2</text>
<text x="370.3" y="539.65" font-size="5.8" text-anchor="middle" fill="#333">4</text>
<text x="358.6" y="545.25" font-size="5.8" text-anchor="middle" fill="#333">3</text>
<text x="370.3" y="545.25" font-size="5.8" text-anchor="middle" fill="#333">6</text>
<text x="358.6" y="550.84" font-size="5.8" text-anchor="middle" fill="#333">1</text>
<text x="370.3" y="550.84" font-size="5.8" text-anchor="middle" fill="#333">2</text>
<text x="358.6" y="556.43" font-size="5.8" text-anchor="middle" fill="#333">2</text>
<text x="370.3" y="556.43" font-size="5.8" text-anchor="middle" fill="#333">4</text>
<text x="358.6" y="562.03" font-size="5.8" text-anchor="middle" fill="#333">1</text>
<text x="370.3" y="562.03" font-size="5.8" text-anchor="middle" fill="#333">2</text>
<text x="358.6" y="567.62" font-size="5.8" text-anchor="middle" fill="#333">1</text>
<text x="370.3" y="567.62" font-size="5.8" text-anchor="middle" fill="#333">2</text>
<text x="358.6" y="573.22" font-size="5.8" text-anchor="middle" fill="#333">0</text>
<text x="370.3" y="573.22" font-size="5.8" text-anchor="middle" fill="#333">0</text>
<text x="358.6" y="578.81" font-size="5.8" text-anchor="middle" fill="#333">1</text>
<text x="370.3" y="578.81" font-size="5.8" text-anchor="middle" fill="#333">2</text>
<text x="496.3" y="252.6" font-size="5.6" text-anchor="middle" fill="#222">n</text>
<text x="507.7" y="252.6" font-size="5.6" text-anchor="middle" fill="#222">%</text>
<text x="496.3" y="259.90" font-size="5.8" text-anchor="middle" fill="#333">21</text>
<text x="507.7" y="259.90" font-size="5.8" text-anchor="middle" fill="#333">100</text>
<text x="496.3" y="265.50" font-size="5.8" text-anchor="middle" fill="#333">17</text>
<text x="507.7" y="265.50" font-size="5.8" text-anchor="middle" fill="#333">81</text>
<text x="496.3" y="271.09" font-size="5.8" text-anchor="middle" fill="#333">16</text>
<text x="507.7" y="271.09" font-size="5.8" text-anchor="middle" fill="#333">76</text>
<text x="496.3" y="276.69" font-size="5.8" text-anchor="middle" fill="#333">15</text>
<text x="507.7" y="276.69" font-size="5.8" text-anchor="middle" fill="#333">71</text>
<text x="496.3" y="282.28" font-size="5.8" text-anchor="middle" fill="#333">14</text>
<text x="507.7" y="282.28" font-size="5.8" text-anchor="middle" fill="#333">67</text>
<text x="496.3" y="287.88" font-size="5.8" text-anchor="middle" fill="#333">14</text>
<text x="507.7" y="287.88" font-size="5.8" text-anchor="middle" fill="#333">67</text>
<text x="496.3" y="293.47" font-size="5.8" text-anchor="middle" fill="#333">4</text>
<text x="507.7" y="293.47" font-size="5.8" text-anchor="middle" fill="#333">19</text>
<text x="496.3" y="299.06" font-size="5.8" text-anchor="middle" fill="#333">4</text>
<text x="507.7" y="299.06" font-size="5.8" text-anchor="middle" fill="#333">19</text>
<text x="496.3" y="304.66" font-size="5.8" text-anchor="middle" fill="#333">3</text>
<text x="507.7" y="304.66" font-size="5.8" text-anchor="middle" fill="#333">14</text>
<text x="496.3" y="310.25" font-size="5.8" text-anchor="middle" fill="#333">3</text>
<text x="507.7" y="310.25" font-size="5.8" text-anchor="middle" fill="#333">14</text>
<text x="496.3" y="315.85" font-size="5.8" text-anchor="middle" fill="#333">0</text>
<text x="507.7" y="315.85" font-size="5.8" text-anchor="middle" fill="#333">0</text>
<text x="496.3" y="321.44" font-size="5.8" text-anchor="middle" fill="#333">0</text>
<text x="507.7" y="321.44" font-size="5.8" text-anchor="middle" fill="#333">0</text>
<text x="496.3" y="327.04" font-size="5.8" text-anchor="middle" fill="#333">2</text>
<text x="507.7" y="327.04" font-size="5.8" text-anchor="middle" fill="#333">10</text>
<text x="496.3" y="332.63" font-size="5.8" text-anchor="middle" fill="#333">5</text>
<text x="507.7" y="332.63" font-size="5.8" text-anchor="middle" fill="#333">24</text>
<text x="496.3" y="338.23" font-size="5.8" text-anchor="middle" fill="#333">0</text>
<text x="507.7" y="338.23" font-size="5.8" text-anchor="middle" fill="#333">0</text>
<text x="496.3" y="343.82" font-size="5.8" text-anchor="middle" fill="#333">1</text>
<text x="507.7" y="343.82" font-size="5.8" text-anchor="middle" fill="#333">5</text>
<text x="496.3" y="349.42" font-size="5.8" text-anchor="middle" fill="#333">0</text>
<text x="507.7" y="349.42" font-size="5.8" text-anchor="middle" fill="#333">0</text>
<text x="496.3" y="355.01" font-size="5.8" text-anchor="middle" fill="#333">1</text>
<text x="507.7" y="355.01" font-size="5.8" text-anchor="middle" fill="#333">5</text>
<text x="496.3" y="360.61" font-size="5.8" text-anchor="middle" fill="#333">1</text>
<text x="507.7" y="360.61" font-size="5.8" text-anchor="middle" fill="#333">5</text>
<text x="496.3" y="366.20" font-size="5.8" text-anchor="middle" fill="#333">1</text>
<text x="507.7" y="366.20" font-size="5.8" text-anchor="middle" fill="#333">5</text>
<text x="496.3" y="371.80" font-size="5.8" text-anchor="middle" fill="#333">2</text>
<text x="507.7" y="371.80" font-size="5.8" text-anchor="middle" fill="#333">10</text>
<text x="496.3" y="377.39" font-size="5.8" text-anchor="middle" fill="#333">1</text>
<text x="507.7" y="377.39" font-size="5.8" text-anchor="middle" fill="#333">5</text>
<text x="496.3" y="382.99" font-size="5.8" text-anchor="middle" fill="#333">0</text>
<text x="507.7" y="382.99" font-size="5.8" text-anchor="middle" fill="#333">0</text>
<text x="496.3" y="388.58" font-size="5.8" text-anchor="middle" fill="#333">0</text>
<text x="507.7" y="388.58" font-size="5.8" text-anchor="middle" fill="#333">0</text>
<text x="496.3" y="394.18" font-size="5.8" text-anchor="middle" fill="#333">0</text>
<text x="507.7" y="394.18" font-size="5.8" text-anchor="middle" fill="#333">0</text>
<text x="496.3" y="399.77" font-size="5.8" text-anchor="middle" fill="#333">0</text>
<text x="507.7" y="399.77" font-size="5.8" text-anchor="middle" fill="#333">0</text>
<text x="496.3" y="405.37" font-size="5.8" text-anchor="middle" fill="#333">0</text>
<text x="507.7" y="405.37" font-size="5.8" text-anchor="middle" fill="#333">0</text>
<text x="496.3" y="410.96" font-size="5.8" text-anchor="middle" fill="#333">0</text>
<text x="507.7" y="410.96" font-size="5.8" text-anchor="middle" fill="#333">0</text>
<text x="496.3" y="416.56" font-size="5.8" text-anchor="middle" fill="#333">0</text>
<text x="507.7" y="416.56" font-size="5.8" text-anchor="middle" fill="#333">0</text>
<text x="496.3" y="422.15" font-size="5.8" text-anchor="middle" fill="#333">1</text>
<text x="507.7" y="422.15" font-size="5.8" text-anchor="middle" fill="#333">5</text>
<text x="496.3" y="427.75" font-size="5.8" text-anchor="middle" fill="#333">0</text>
<text x="507.7" y="427.75" font-size="5.8" text-anchor="middle" fill="#333">0</text>
<text x="496.3" y="433.34" font-size="5.8" text-anchor="middle" fill="#333">0</text>
<text x="507.7" y="433.34" font-size="5.8" text-anchor="middle" fill="#333">0</text>
<text x="496.3" y="438.94" font-size="5.8" text-anchor="middle" fill="#333">0</text>
<text x="507.7" y="438.94" font-size="5.8" text-anchor="middle" fill="#333">0</text>
<text x="496.3" y="444.53" font-size="5.8" text-anchor="middle" fill="#333">0</text>
<text x="507.7" y="444.53" font-size="5.8" text-anchor="middle" fill="#333">0</text>
<text x="496.3" y="450.13" font-size="5.8" text-anchor="middle" fill="#333">1</text>
<text x="507.7" y="450.13" font-size="5.8" text-anchor="middle" fill="#333">5</text>
<text x="496.3" y="455.72" font-size="5.8" text-anchor="middle" fill="#333">1</text>
<text x="507.7" y="455.72" font-size="5.8" text-anchor="middle" fill="#333">5</text>
<text x="496.3" y="461.32" font-size="5.8" text-anchor="middle" fill="#333">0</text>
<text x="507.7" y="461.32" font-size="5.8" text-anchor="middle" fill="#333">0</text>
<text x="496.3" y="466.91" font-size="5.8" text-anchor="middle" fill="#333">0</text>
<text x="507.7" y="466.91" font-size="5.8" text-anchor="middle" fill="#333">0</text>
<text x="496.3" y="472.51" font-size="5.8" text-anchor="middle" fill="#333">1</text>
<text x="507.7" y="472.51" font-size="5.8" text-anchor="middle" fill="#333">5</text>
<text x="496.3" y="478.10" font-size="5.8" text-anchor="middle" fill="#333">1</text>
<text x="507.7" y="478.10" font-size="5.8" text-anchor="middle" fill="#333">5</text>
<text x="496.3" y="483.70" font-size="5.8" text-anchor="middle" fill="#333">0</text>
<text x="507.7" y="483.70" font-size="5.8" text-anchor="middle" fill="#333">0</text>
<text x="496.3" y="489.29" font-size="5.8" text-anchor="middle" fill="#333">0</text>
<text x="507.7" y="489.29" font-size="5.8" text-anchor="middle" fill="#333">0</text>
<text x="496.3" y="494.89" font-size="5.8" text-anchor="middle" fill="#333">1</text>
<text x="507.7" y="494.89" font-size="5.8" text-anchor="middle" fill="#333">5</text>
<text x="496.3" y="500.48" font-size="5.8" text-anchor="middle" fill="#333">1</text>
<text x="507.7" y="500.48" font-size="5.8" text-anchor="middle" fill="#333">5</text>
<text x="496.3" y="506.08" font-size="5.8" text-anchor="middle" fill="#333">3</text>
<text x="507.7" y="506.08" font-size="5.8" text-anchor="middle" fill="#333">14</text>
<text x="496.3" y="511.67" font-size="5.8" text-anchor="middle" fill="#333">3</text>
<text x="507.7" y="511.67" font-size="5.8" text-anchor="middle" fill="#333">14</text>
<text x="496.3" y="517.27" font-size="5.8" text-anchor="middle" fill="#333">0</text>
<text x="507.7" y="517.27" font-size="5.8" text-anchor="middle" fill="#333">0</text>
<text x="496.3" y="522.86" font-size="5.8" text-anchor="middle" fill="#333">0</text>
<text x="507.7" y="522.86" font-size="5.8" text-anchor="middle" fill="#333">0</text>
<text x="496.3" y="528.46" font-size="5.8" text-anchor="middle" fill="#333">0</text>
<text x="507.7" y="528.46" font-size="5.8" text-anchor="middle" fill="#333">0</text>
<text x="496.3" y="534.05" font-size="5.8" text-anchor="middle" fill="#333">0</text>
<text x="507.7" y="534.05" font-size="5.8" text-anchor="middle" fill="#333">0</text>
<text x="496.3" y="539.65" font-size="5.8" text-anchor="middle" fill="#333">0</text>
<text x="507.7" y="539.65" font-size="5.8" text-anchor="middle" fill="#333">0</text>
<text x="496.3" y="545.25" font-size="5.8" text-anchor="middle" fill="#333">1</text>
<text x="507.7" y="545.25" font-size="5.8" text-anchor="middle" fill="#333">5</text>
<text x="496.3" y="550.84" font-size="5.8" text-anchor="middle" fill="#333">0</text>
<text x="507.7" y="550.84" font-size="5.8" text-anchor="middle" fill="#333">0</text>
<text x="496.3" y="556.43" font-size="5.8" text-anchor="middle" fill="#333">0</text>
<text x="507.7" y="556.43" font-size="5.8" text-anchor="middle" fill="#333">0</text>
<text x="496.3" y="562.03" font-size="5.8" text-anchor="middle" fill="#333">1</text>
<text x="507.7" y="562.03" font-size="5.8" text-anchor="middle" fill="#333">5</text>
<text x="496.3" y="567.62" font-size="5.8" text-anchor="middle" fill="#333">1</text>
<text x="507.7" y="567.62" font-size="5.8" text-anchor="middle" fill="#333">5</text>
<text x="496.3" y="573.22" font-size="5.8" text-anchor="middle" fill="#333">0</text>
<text x="507.7" y="573.22" font-size="5.8" text-anchor="middle" fill="#333">0</text>
<text x="496.3" y="578.81" font-size="5.8" text-anchor="middle" fill="#333">0</text>
<text x="507.7" y="578.81" font-size="5.8" text-anchor="middle" fill="#333">0</text>
<rect x="112.8" y="589.4" width="7.4" height="6.9" fill="#404040" stroke="#333" stroke-width="0.5"/>
<text x="123.8" y="594.7" font-size="6.5" textLength="22.0" lengthAdjust="spacingAndGlyphs" fill="#333">Mutated</text>
<rect x="155.7" y="589.4" width="7.4" height="6.9" fill="#555" stroke="#333" stroke-width="0.5"/>
<text x="166.0" y="594.7" font-size="6.5" textLength="34.5" lengthAdjust="spacingAndGlyphs" fill="#333">Acquired at R</text>
<rect x="211.2" y="589.4" width="7.4" height="6.9" fill="#c8c8c8" stroke="#333" stroke-width="0.5"/>
<text x="221.9" y="594.7" font-size="6.5" textLength="57.6" lengthAdjust="spacingAndGlyphs" fill="#333">No mutation detected</text>
<text x="289.0" y="594.7" font-size="6.5" textLength="32.3" lengthAdjust="spacingAndGlyphs" fill="#333">D=Diagnosis</text>
<text x="330.8" y="594.7" font-size="6.5" textLength="77.9" lengthAdjust="spacingAndGlyphs" fill="#333">R=Relapse/Refractory Disease</text>
<text x="418.8" y="594.7" font-size="6.5" textLength="61.8" lengthAdjust="spacingAndGlyphs" fill="#333">#=Conventional method</text>
<rect x="0" y="0" width="1.3" height="604" fill="#000"/>
<rect x="0" y="0" width="520" height="1.2" fill="#000"/>
<rect x="518.2" y="0" width="1.8" height="604" fill="#000"/>
<rect x="0" y="602.4" width="520" height="1.6" fill="#000"/>
</svg>
</body></html>
